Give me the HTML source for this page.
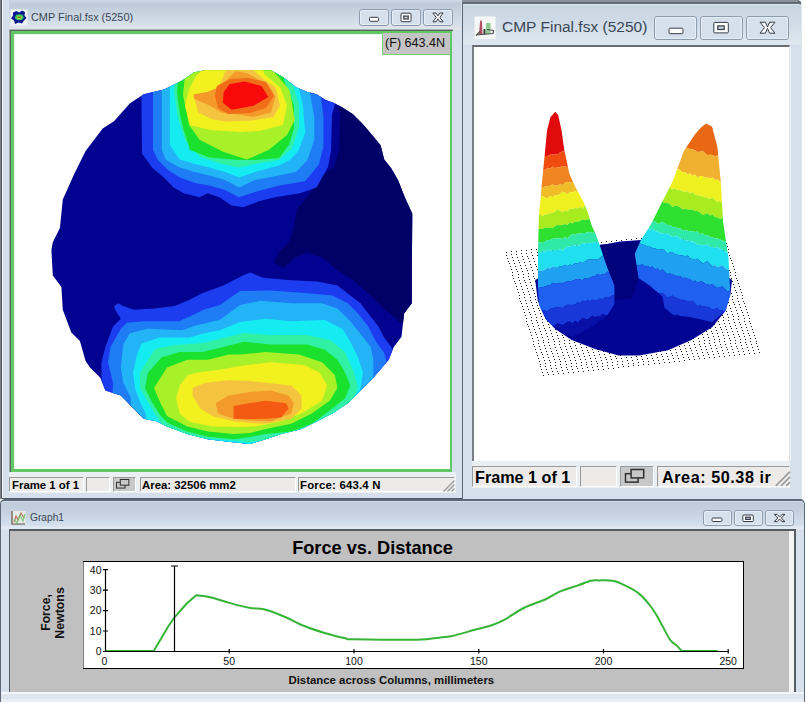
<!DOCTYPE html>
<html><head><meta charset="utf-8">
<style>
*{margin:0;padding:0;box-sizing:border-box}
html,body{width:806px;height:702px;overflow:hidden;background:#fdfefe;font-family:"Liberation Sans",sans-serif}
.abs{position:absolute}
.win{position:absolute;background:#d5e0ec;border:1px solid #4f5860;border-radius:5px}
.ttl{position:absolute;color:#3b4756;white-space:nowrap}
.btn{position:absolute;border:1px solid #8c9aab;border-radius:3px;background:linear-gradient(#e6edf5,#d3deea)}
.stp{position:absolute;background:#ecebea;border-top:1px solid #9a9a9a;border-left:1px solid #9a9a9a;border-right:1px solid #fff;border-bottom:1px solid #fff}
.stt{position:absolute;font-weight:bold;color:#000;white-space:nowrap}
</style></head><body>

<!-- ============ WINDOW 1 ============ -->
<div class="abs" style="left:0;top:0;width:1px;height:499px;background:#7a8288"></div>
<div class="win" style="left:1px;top:-12px;width:462px;height:511px;border-radius:5px 5px 0 0"></div>
<div class="abs" style="left:9px;top:0;width:452px;height:30px;background:linear-gradient(#ccd8e4 0px,#bfcbd8 4px,#c6d2de 12px,#d2dee9 22px,#dde2ea 27px,#e4e6ea 30px)"></div>
<div class="abs" style="left:2px;top:0;width:1px;height:498px;background:#eef4f6"></div>
<!-- icon -->
<div class="ttl" style="left:31px;top:10px;font-size:10.9px;line-height:14px">CMP Final.fsx (5250)</div>
<!-- client -->
<div class="abs" style="left:9px;top:29px;width:444px;height:1px;background:#a8b0b0"></div><div class="abs" style="left:9px;top:29px;width:1px;height:444px;background:#a0a8a8"></div>
<div class="abs" style="left:10px;top:30px;width:443px;height:443px;border-left:1px solid #56685e;border-top:1px solid #56685e"></div>
<div class="abs" style="left:11px;top:31px;width:441px;height:441px;border:3px solid #62c866;border-right-width:2px;background:#fff;box-shadow:inset 1px 1px 0 #e8f8ea"></div>
<!--HEAT--><svg class="abs" style="left:0;top:0" width="806" height="702">
<defs><clipPath id="bc"><polygon points="52.8,242.3 59.9,228.0 62.8,199.6 74.2,174.0 85.6,151.0 102.7,128.4 114.0,121.3 130.0,103.3 143.7,94.2 164.2,89.6 182.4,80.5 193.8,72.5 205.0,70.3 240.0,70.3 271.0,70.3 284.7,78.2 296.0,87.3 307.4,91.9 316.6,94.2 325.7,99.9 334.8,103.3 342.5,107.4 353.0,114.3 363.4,124.7 373.8,136.9 380.7,145.6 384.2,159.5 391.2,168.2 398.1,180.3 405.0,197.7 412.3,213.8 412.0,250.0 411.8,270.0 411.8,303.3 404.1,313.6 401.5,336.7 393.8,346.9 388.7,359.7 373.3,377.7 360.5,390.5 347.7,403.3 332.3,413.6 317.0,421.3 301.5,429.0 281.0,434.0 265.6,439.2 250.0,444.0 228.5,441.8 208.0,439.2 187.4,434.0 167.0,426.4 156.7,421.3 143.8,418.7 133.6,408.5 120.8,395.6 105.4,390.5 100.3,377.7 90.0,367.4 85.6,361.0 79.9,341.0 71.3,332.6 62.8,309.8 61.4,287.0 52.8,275.6 51.4,250.0"/></clipPath></defs>
<polygon points="52.8,242.3 59.9,228.0 62.8,199.6 74.2,174.0 85.6,151.0 102.7,128.4 114.0,121.3 130.0,103.3 143.7,94.2 164.2,89.6 182.4,80.5 193.8,72.5 205.0,70.3 240.0,70.3 271.0,70.3 284.7,78.2 296.0,87.3 307.4,91.9 316.6,94.2 325.7,99.9 334.8,103.3 342.5,107.4 353.0,114.3 363.4,124.7 373.8,136.9 380.7,145.6 384.2,159.5 391.2,168.2 398.1,180.3 405.0,197.7 412.3,213.8 412.0,250.0 411.8,270.0 411.8,303.3 404.1,313.6 401.5,336.7 393.8,346.9 388.7,359.7 373.3,377.7 360.5,390.5 347.7,403.3 332.3,413.6 317.0,421.3 301.5,429.0 281.0,434.0 265.6,439.2 250.0,444.0 228.5,441.8 208.0,439.2 187.4,434.0 167.0,426.4 156.7,421.3 143.8,418.7 133.6,408.5 120.8,395.6 105.4,390.5 100.3,377.7 90.0,367.4 85.6,361.0 79.9,341.0 71.3,332.6 62.8,309.8 61.4,287.0 52.8,275.6 51.4,250.0" fill="#020290"/>
<g clip-path="url(#bc)">
<polygon points="336.0,95.0 340.0,115.0 339.0,150.0 334.0,167.0 322.6,175.6 309.7,193.6 297.0,209.0 294.0,227.0 289.0,242.0 279.0,252.6 273.8,262.8 284.0,268.0 294.4,257.7 307.0,252.6 322.6,257.7 337.4,270.0 352.8,280.3 368.2,293.0 383.6,308.5 399.0,321.3 412.0,330.0 430.0,330.0 430.0,90.0" fill="#000066"/>
<polygon points="114.4,305.9 118.2,303.3 123.3,305.9 133.6,309.7 154.0,308.5 174.6,305.9 187.4,300.8 202.8,293.0 223.3,285.4 243.8,275.1 250.3,272.6 263.0,277.7 291.3,280.3 317.0,281.5 337.4,285.4 350.3,295.6 360.5,303.3 368.2,313.6 378.5,326.4 383.6,336.7 391.3,347.0 393.8,354.6 400.0,370.0 400.0,460.0 95.0,460.0 101.5,377.7 101.5,362.3 105.4,347.0 113.0,326.4 120.8,318.7 114.4,308.5" fill="#1c3cf0"/>
<polygon points="120.8,328.7 126.8,322.8 144.7,321.3 178.9,321.3 192.3,315.3 204.2,309.4 220.0,305.0 240.0,291.0 270.8,290.5 304.0,293.0 332.3,295.6 347.7,303.3 358.0,313.6 368.2,326.4 376.0,341.8 383.6,352.0 386.2,359.7 390.0,460.0 110.0,460.0 113.0,382.8 108.0,362.3 110.5,347.0" fill="#1e7cf4"/>
<polygon points="123.8,343.6 129.8,333.2 147.6,328.7 181.9,330.2 195.3,325.7 220.0,319.8 240.0,305.0 260.5,300.8 291.3,303.3 322.0,303.3 337.4,308.5 350.3,321.3 360.5,334.0 370.8,347.0 373.3,359.7 373.3,372.6 375.0,460.0 130.0,460.0 131.0,398.2 123.3,382.8 120.8,367.4 123.3,344.4" fill="#22b4f6"/>
<polygon points="141.7,343.6 159.6,337.6 189.3,337.6 204.2,333.2 220.0,330.2 240.0,322.0 265.6,318.7 291.3,321.3 324.6,320.0 342.6,329.0 350.3,341.8 358.0,357.2 363.0,372.6 360.5,388.0 355.0,460.0 150.0,460.0 146.0,414.0 140.0,402.0 135.0,388.0 133.0,372.6 137.0,354.6" fill="#14ecf2"/>
<polygon points="155.0,349.0 175.0,345.0 202.8,343.0 223.3,338.0 243.8,333.0 270.8,335.0 306.7,335.0 330.0,340.0 345.0,352.0 354.0,372.6 358.0,388.0 352.0,402.0 340.0,413.0 318.0,428.0 291.3,437.0 250.0,442.0 187.4,437.0 162.0,424.0 155.0,414.0 148.0,402.0 140.0,388.0 140.0,372.6" fill="#30f0a4"/>
<polygon points="161.8,357.2 179.7,352.0 202.8,352.0 223.3,347.0 243.8,341.8 270.8,344.4 306.7,344.4 324.6,349.5 337.4,359.7 345.1,372.6 350.3,385.4 345.1,398.2 332.3,408.5 311.8,423.8 291.3,431.5 265.6,434.0 250.0,437.0 233.6,439.2 208.0,436.7 187.4,431.5 168.0,423.0 160.0,415.0 152.0,402.0 145.0,388.0 148.0,372.6" fill="#1ae02e"/>
<polygon points="167.0,367.4 187.4,359.7 208.0,359.7 228.5,354.6 240.0,354.6 265.6,352.0 299.0,354.6 322.0,362.3 334.9,375.0 337.4,388.0 329.7,400.8 311.8,413.6 291.3,423.8 265.6,429.0 250.0,433.0 233.6,434.0 208.0,431.5 187.4,426.4 167.0,416.0 160.0,402.0 154.0,388.0" fill="#a8f028"/>
<polygon points="188.0,375.0 197.7,372.6 218.2,370.0 240.0,366.0 270.8,362.3 304.0,364.9 319.5,372.6 327.2,385.4 322.0,400.8 301.5,413.6 281.0,421.3 255.4,426.4 240.0,427.0 213.0,426.4 190.0,422.0 180.0,414.0 176.0,398.0 180.0,385.0" fill="#f2f01e"/>
<polygon points="192.6,388.0 205.4,382.8 228.5,380.3 250.0,381.0 265.6,382.8 291.3,385.4 301.5,395.6 301.5,408.5 291.3,418.7 265.6,423.8 250.0,423.0 233.6,421.3 213.0,416.2 200.3,408.5 192.6,395.6" fill="#f4c440"/>
<polygon points="215.6,403.3 228.5,395.6 250.0,392.0 270.8,390.5 288.7,395.6 293.8,403.3 291.3,413.6 270.8,421.3 250.0,420.5 233.6,418.7 218.2,413.6" fill="#f49a2a"/>
<polygon points="233.6,405.9 250.0,403.0 265.6,400.8 286.2,403.3 288.7,408.5 281.0,417.4 265.6,418.7 250.0,419.0 233.6,418.7" fill="#f45a12"/>
<polygon points="141.4,60.0 141.4,98.7 142.0,153.6 152.0,167.5 163.8,177.5 173.7,187.4 183.7,193.3 199.5,197.3 207.5,193.3 219.4,197.3 231.3,205.2 243.0,207.2 259.0,201.3 275.0,197.3 300.0,193.3 316.6,187.6 328.0,167.0 331.0,151.0 332.0,114.7 336.0,100.0 336.0,60.0" fill="#1c3cf0"/>
<polygon points="153.0,60.0 153.0,150.0 158.0,160.0 168.0,170.0 180.0,177.5 195.0,183.0 209.4,185.4 225.0,190.0 239.0,197.3 255.0,192.0 278.9,185.4 295.0,183.0 305.2,181.0 318.8,164.8 323.4,146.6 323.4,117.0 321.0,96.4 321.0,60.0" fill="#1e7cf4"/>
<polygon points="161.8,60.0 161.8,150.0 166.0,160.0 179.7,167.5 195.0,172.0 209.4,175.5 225.0,180.0 239.0,187.4 255.0,180.0 278.9,175.5 296.0,172.0 307.4,160.2 314.3,139.7 314.3,117.0 309.7,91.9 309.7,60.0" fill="#22b4f6"/>
<polygon points="169.8,60.0 169.8,145.0 179.7,159.6 195.0,164.0 209.4,167.5 225.0,172.0 239.0,177.5 255.0,172.0 278.9,165.6 290.0,160.0 298.3,151.0 305.2,133.0 303.0,105.6 298.3,85.0 298.0,60.0" fill="#14ecf2"/>
<polygon points="176.0,60.0 174.0,92.0 178.0,118.0 185.0,140.0 200.0,157.0 222.0,164.0 239.0,167.5 255.0,164.0 279.0,160.0 292.0,148.0 299.0,128.0 299.0,105.0 292.0,82.0 292.0,60.0" fill="#30f0a4"/>
<polygon points="180.0,60.0 178.0,78.0 177.0,92.0 180.0,114.7 183.7,130.0 190.0,150.0 209.4,157.6 239.0,160.0 255.0,160.0 278.9,158.0 289.2,144.3 294.0,128.3 294.0,105.6 284.0,80.5 284.0,60.0" fill="#1ae02e"/>
<polygon points="195.0,60.0 184.7,78.2 183.0,95.0 189.0,125.0 199.5,139.8 223.0,151.7 247.0,159.6 269.0,149.7 287.0,135.0 294.8,120.0 291.5,100.0 289.2,89.6 275.6,73.7 270.0,60.0" fill="#a8f028"/>
<polygon points="213.0,60.0 196.0,76.0 189.0,89.6 185.0,105.6 190.0,125.0 210.0,130.0 240.0,132.0 260.0,131.0 283.0,125.0 287.0,105.6 280.0,87.3 264.0,73.7 262.0,60.0" fill="#f2f01e"/>
<polygon points="193.8,96.4 198.3,112.4 212.0,119.2 225.7,121.5 252.8,120.4 273.3,117.0 280.0,105.6 275.6,87.3 262.0,78.0 243.0,60.0 230.0,60.0 218.8,87.3 207.4,91.9" fill="#f4c440"/>
<polygon points="193.8,94.2 207.4,91.9 218.8,87.3 236.0,71.0 248.2,73.7 268.7,85.0 275.6,96.4 271.0,112.4 252.8,117.0 240.0,114.7 221.0,112.4 209.7,105.6 193.8,98.7" fill="#f49a2a"/>
<polygon points="216.8,86.0 230.0,79.0 248.0,78.0 266.0,82.0 274.0,96.0 266.0,108.0 250.0,113.0 228.0,114.0 218.0,108.0 215.0,96.0" fill="#f06e18"/>
<polygon points="223.7,91.9 229.7,84.0 244.6,81.5 261.5,86.0 268.4,96.9 253.5,105.8 231.7,109.8 222.8,102.8" fill="#f80a0a"/>
</g>
</svg><!--/HEAT-->
<!-- label -->
<div class="abs" style="left:382px;top:33px;width:68px;height:22px;background:#c4c4c4;border:1px solid #7cd07c;border-right:none;border-top:none"></div>
<div class="abs" style="left:385px;top:35px;font-size:12.6px;line-height:16px;color:#111;white-space:nowrap">(F) 643.4N</div>
<!-- status bar -->
<div class="abs" style="left:9px;top:472px;width:447px;height:21px;background:#eceff1"></div>
<div class="stp" style="left:9px;top:477px;width:75px;height:15px"></div>
<div class="stp" style="left:86px;top:477px;width:24px;height:15px"></div>
<div class="stp" style="left:113px;top:477px;width:23px;height:15px;background:#c8c8c8"></div>
<div class="stp" style="left:140px;top:477px;width:156px;height:15px"></div>
<div class="stp" style="left:298px;top:477px;width:157px;height:15px"></div>
<div class="stt" style="left:12px;top:479px;font-size:11.4px;line-height:13px">Frame 1 of 1</div>
<div class="stt" style="left:142px;top:479px;font-size:11.4px;line-height:13px">Area: 32506 mm2</div>
<div class="stt" style="left:300px;top:479px;font-size:11.4px;line-height:13px;letter-spacing:0.2px">Force: 643.4 N</div>

<!-- ============ WINDOW 2 ============ -->
<div class="win" style="left:462px;top:0px;width:340px;height:500px;border-color:#5a6470;border-right-color:#dde8ea;border-top:4px solid #626c78;border-radius:0 5px 0 0"></div><div class="abs" style="left:462px;top:0;width:336px;height:2px;background:#8a929c"></div>
<div class="abs" style="left:463px;top:4px;width:338px;height:41px;border-radius:4px 4px 0 0;background:linear-gradient(#e8eef4 0px,#c8d4e0 1.5px,#d0dce8 20px,#dce6ee 36px,#dfe8f0 41px)"></div>
<div class="ttl" style="left:502px;top:17px;font-size:15.5px;line-height:20px">CMP Final.fsx (5250)</div>
<div class="abs" style="left:472px;top:45px;width:318px;height:416px;border-left:2px solid #7a7e84;border-top:2px solid #6a6e74;border-right:1px solid #dfe3e7;background:#fff"></div><div class="abs" style="left:790px;top:47px;width:1px;height:414px;background:#eef6fc"></div>
<!--P3D--><svg class="abs" style="left:0;top:0" width="806" height="702">
<defs><linearGradient id="lg" gradientUnits="userSpaceOnUse" x1="560" y1="112" x2="603.85" y2="331.23"><stop offset="0.0000" stop-color="#e00c0c"/><stop offset="0.1763" stop-color="#e00c0c"/><stop offset="0.1833" stop-color="#f04c10"/><stop offset="0.2377" stop-color="#f04c10"/><stop offset="0.2447" stop-color="#f08420"/><stop offset="0.3123" stop-color="#f08420"/><stop offset="0.3193" stop-color="#f0bc28"/><stop offset="0.3561" stop-color="#f0bc28"/><stop offset="0.3632" stop-color="#eef020"/><stop offset="0.4307" stop-color="#eef020"/><stop offset="0.4377" stop-color="#a8ec20"/><stop offset="0.4921" stop-color="#a8ec20"/><stop offset="0.4991" stop-color="#30e030"/><stop offset="0.5491" stop-color="#30e030"/><stop offset="0.5561" stop-color="#30e8a8"/><stop offset="0.5974" stop-color="#30e8a8"/><stop offset="0.6044" stop-color="#20e0f0"/><stop offset="0.6719" stop-color="#20e0f0"/><stop offset="0.6789" stop-color="#20a0f0"/><stop offset="0.7465" stop-color="#20a0f0"/><stop offset="0.7535" stop-color="#2060f0"/><stop offset="0.8518" stop-color="#2060f0"/><stop offset="0.8588" stop-color="#1838d8"/><stop offset="0.9263" stop-color="#1838d8"/><stop offset="0.9333" stop-color="#0810a8"/><stop offset="1.0000" stop-color="#0810a8"/></linearGradient><linearGradient id="rg" gradientUnits="userSpaceOnUse" x1="704" y1="125" x2="623.54" y2="303.79"><stop offset="0.0000" stop-color="#e86814"/><stop offset="0.1265" stop-color="#e86814"/><stop offset="0.1340" stop-color="#f0b030"/><stop offset="0.2381" stop-color="#f0b030"/><stop offset="0.2456" stop-color="#eef020"/><stop offset="0.3312" stop-color="#eef020"/><stop offset="0.3386" stop-color="#a8ec20"/><stop offset="0.4102" stop-color="#a8ec20"/><stop offset="0.4177" stop-color="#30e030"/><stop offset="0.5079" stop-color="#30e030"/><stop offset="0.5153" stop-color="#30e8a8"/><stop offset="0.5544" stop-color="#30e8a8"/><stop offset="0.5619" stop-color="#20e0f0"/><stop offset="0.6335" stop-color="#20e0f0"/><stop offset="0.6409" stop-color="#20a0f0"/><stop offset="0.7312" stop-color="#20a0f0"/><stop offset="0.7386" stop-color="#2060f0"/><stop offset="0.8381" stop-color="#2060f0"/><stop offset="0.8456" stop-color="#1838d8"/><stop offset="0.9195" stop-color="#1838d8"/><stop offset="0.9270" stop-color="#0810a8"/><stop offset="1.0000" stop-color="#0810a8"/></linearGradient><linearGradient id="sh" x1="0" y1="0" x2="1" y2="0"><stop offset="0" stop-color="#000" stop-opacity="0"/><stop offset="0.55" stop-color="#000" stop-opacity="0"/><stop offset="1" stop-color="#000" stop-opacity="0.18"/></linearGradient></defs>
<path d="M543 375h1v1h-1zM542 372h1v1h-1zM541 369h1v1h-1zM540 366h1v1h-1zM540 364h1v1h-1zM539 361h1v1h-1zM538 358h1v1h-1zM537 355h1v1h-1zM536 352h1v1h-1zM535 349h1v1h-1zM534 346h1v1h-1zM533 344h1v1h-1zM533 341h1v1h-1zM532 338h1v1h-1zM531 335h1v1h-1zM530 332h1v1h-1zM529 329h1v1h-1zM528 326h1v1h-1zM527 324h1v1h-1zM526 321h1v1h-1zM526 318h1v1h-1zM525 315h1v1h-1zM524 312h1v1h-1zM523 309h1v1h-1zM522 306h1v1h-1zM521 303h1v1h-1zM520 301h1v1h-1zM519 298h1v1h-1zM519 295h1v1h-1zM518 292h1v1h-1zM517 289h1v1h-1zM516 286h1v1h-1zM515 283h1v1h-1zM514 281h1v1h-1zM513 278h1v1h-1zM512 275h1v1h-1zM512 272h1v1h-1zM511 269h1v1h-1zM510 266h1v1h-1zM509 263h1v1h-1zM508 261h1v1h-1zM507 258h1v1h-1zM506 255h1v1h-1zM506 252h1v1h-1zM548 374h1v1h-1zM547 372h1v1h-1zM546 369h1v1h-1zM545 366h1v1h-1zM545 363h1v1h-1zM544 360h1v1h-1zM543 357h1v1h-1zM542 354h1v1h-1zM541 352h1v1h-1zM540 349h1v1h-1zM539 346h1v1h-1zM538 343h1v1h-1zM538 340h1v1h-1zM537 337h1v1h-1zM536 334h1v1h-1zM535 332h1v1h-1zM534 329h1v1h-1zM533 326h1v1h-1zM532 323h1v1h-1zM531 320h1v1h-1zM531 317h1v1h-1zM530 314h1v1h-1zM529 312h1v1h-1zM528 309h1v1h-1zM527 306h1v1h-1zM526 303h1v1h-1zM525 300h1v1h-1zM524 297h1v1h-1zM524 294h1v1h-1zM523 292h1v1h-1zM522 289h1v1h-1zM521 286h1v1h-1zM520 283h1v1h-1zM519 280h1v1h-1zM518 277h1v1h-1zM518 274h1v1h-1zM517 271h1v1h-1zM516 269h1v1h-1zM515 266h1v1h-1zM514 263h1v1h-1zM513 260h1v1h-1zM512 257h1v1h-1zM511 254h1v1h-1zM511 251h1v1h-1zM553 374h1v1h-1zM552 371h1v1h-1zM551 368h1v1h-1zM550 365h1v1h-1zM550 362h1v1h-1zM549 360h1v1h-1zM548 357h1v1h-1zM547 354h1v1h-1zM546 351h1v1h-1zM545 348h1v1h-1zM544 345h1v1h-1zM543 342h1v1h-1zM543 340h1v1h-1zM542 337h1v1h-1zM541 334h1v1h-1zM540 331h1v1h-1zM539 328h1v1h-1zM538 325h1v1h-1zM537 322h1v1h-1zM536 320h1v1h-1zM536 317h1v1h-1zM535 314h1v1h-1zM534 311h1v1h-1zM533 308h1v1h-1zM532 305h1v1h-1zM531 302h1v1h-1zM530 300h1v1h-1zM530 297h1v1h-1zM529 294h1v1h-1zM528 291h1v1h-1zM527 288h1v1h-1zM526 285h1v1h-1zM525 282h1v1h-1zM524 280h1v1h-1zM523 277h1v1h-1zM523 274h1v1h-1zM522 271h1v1h-1zM521 268h1v1h-1zM520 265h1v1h-1zM519 262h1v1h-1zM518 260h1v1h-1zM517 257h1v1h-1zM516 254h1v1h-1zM516 251h1v1h-1zM558 373h1v1h-1zM557 371h1v1h-1zM556 368h1v1h-1zM555 365h1v1h-1zM555 362h1v1h-1zM554 359h1v1h-1zM553 356h1v1h-1zM552 353h1v1h-1zM551 351h1v1h-1zM550 348h1v1h-1zM549 345h1v1h-1zM548 342h1v1h-1zM548 339h1v1h-1zM547 336h1v1h-1zM546 333h1v1h-1zM545 330h1v1h-1zM544 328h1v1h-1zM543 325h1v1h-1zM542 322h1v1h-1zM542 319h1v1h-1zM541 316h1v1h-1zM540 313h1v1h-1zM539 310h1v1h-1zM538 308h1v1h-1zM537 305h1v1h-1zM536 302h1v1h-1zM535 299h1v1h-1zM535 296h1v1h-1zM534 293h1v1h-1zM533 290h1v1h-1zM532 288h1v1h-1zM531 285h1v1h-1zM530 282h1v1h-1zM529 279h1v1h-1zM528 276h1v1h-1zM528 273h1v1h-1zM527 270h1v1h-1zM526 268h1v1h-1zM525 265h1v1h-1zM524 262h1v1h-1zM523 259h1v1h-1zM522 256h1v1h-1zM521 253h1v1h-1zM521 250h1v1h-1zM563 373h1v1h-1zM562 370h1v1h-1zM561 367h1v1h-1zM560 364h1v1h-1zM560 361h1v1h-1zM559 359h1v1h-1zM558 356h1v1h-1zM557 353h1v1h-1zM556 350h1v1h-1zM555 347h1v1h-1zM554 344h1v1h-1zM554 341h1v1h-1zM553 339h1v1h-1zM552 336h1v1h-1zM551 333h1v1h-1zM550 330h1v1h-1zM549 327h1v1h-1zM548 324h1v1h-1zM547 321h1v1h-1zM547 319h1v1h-1zM546 316h1v1h-1zM545 313h1v1h-1zM544 310h1v1h-1zM543 307h1v1h-1zM542 304h1v1h-1zM541 301h1v1h-1zM540 298h1v1h-1zM540 296h1v1h-1zM539 293h1v1h-1zM538 290h1v1h-1zM537 287h1v1h-1zM536 284h1v1h-1zM535 281h1v1h-1zM534 278h1v1h-1zM533 276h1v1h-1zM533 273h1v1h-1zM532 270h1v1h-1zM531 267h1v1h-1zM530 264h1v1h-1zM529 261h1v1h-1zM528 258h1v1h-1zM527 256h1v1h-1zM526 253h1v1h-1zM526 250h1v1h-1zM568 372h1v1h-1zM567 369h1v1h-1zM566 367h1v1h-1zM566 364h1v1h-1zM565 361h1v1h-1zM564 358h1v1h-1zM563 355h1v1h-1zM562 352h1v1h-1zM561 349h1v1h-1zM560 347h1v1h-1zM559 344h1v1h-1zM559 341h1v1h-1zM558 338h1v1h-1zM557 335h1v1h-1zM556 332h1v1h-1zM555 329h1v1h-1zM554 327h1v1h-1zM553 324h1v1h-1zM552 321h1v1h-1zM552 318h1v1h-1zM551 315h1v1h-1zM550 312h1v1h-1zM549 309h1v1h-1zM548 307h1v1h-1zM547 304h1v1h-1zM546 301h1v1h-1zM545 298h1v1h-1zM545 295h1v1h-1zM544 292h1v1h-1zM543 289h1v1h-1zM542 287h1v1h-1zM541 284h1v1h-1zM540 281h1v1h-1zM539 278h1v1h-1zM538 275h1v1h-1zM538 272h1v1h-1zM537 269h1v1h-1zM536 266h1v1h-1zM535 264h1v1h-1zM534 261h1v1h-1zM533 258h1v1h-1zM532 255h1v1h-1zM531 252h1v1h-1zM531 249h1v1h-1zM573 372h1v1h-1zM572 369h1v1h-1zM571 366h1v1h-1zM571 363h1v1h-1zM570 360h1v1h-1zM569 357h1v1h-1zM568 355h1v1h-1zM567 352h1v1h-1zM566 349h1v1h-1zM565 346h1v1h-1zM564 343h1v1h-1zM564 340h1v1h-1zM563 337h1v1h-1zM562 335h1v1h-1zM561 332h1v1h-1zM560 329h1v1h-1zM559 326h1v1h-1zM558 323h1v1h-1zM557 320h1v1h-1zM557 317h1v1h-1zM556 315h1v1h-1zM555 312h1v1h-1zM554 309h1v1h-1zM553 306h1v1h-1zM552 303h1v1h-1zM551 300h1v1h-1zM550 297h1v1h-1zM550 295h1v1h-1zM549 292h1v1h-1zM548 289h1v1h-1zM547 286h1v1h-1zM546 283h1v1h-1zM545 280h1v1h-1zM544 277h1v1h-1zM543 275h1v1h-1zM543 272h1v1h-1zM542 269h1v1h-1zM541 266h1v1h-1zM540 263h1v1h-1zM539 260h1v1h-1zM538 257h1v1h-1zM537 255h1v1h-1zM537 252h1v1h-1zM536 249h1v1h-1zM578 371h1v1h-1zM577 368h1v1h-1zM576 366h1v1h-1zM576 363h1v1h-1zM575 360h1v1h-1zM574 357h1v1h-1zM573 354h1v1h-1zM572 351h1v1h-1zM571 348h1v1h-1zM570 346h1v1h-1zM569 343h1v1h-1zM569 340h1v1h-1zM568 337h1v1h-1zM567 334h1v1h-1zM566 331h1v1h-1zM565 328h1v1h-1zM564 325h1v1h-1zM563 323h1v1h-1zM562 320h1v1h-1zM562 317h1v1h-1zM561 314h1v1h-1zM560 311h1v1h-1zM559 308h1v1h-1zM558 305h1v1h-1zM557 303h1v1h-1zM556 300h1v1h-1zM555 297h1v1h-1zM555 294h1v1h-1zM554 291h1v1h-1zM553 288h1v1h-1zM552 285h1v1h-1zM551 283h1v1h-1zM550 280h1v1h-1zM549 277h1v1h-1zM549 274h1v1h-1zM548 271h1v1h-1zM547 268h1v1h-1zM546 265h1v1h-1zM545 263h1v1h-1zM544 260h1v1h-1zM543 257h1v1h-1zM542 254h1v1h-1zM542 251h1v1h-1zM541 248h1v1h-1zM583 371h1v1h-1zM582 368h1v1h-1zM581 365h1v1h-1zM581 362h1v1h-1zM580 359h1v1h-1zM579 356h1v1h-1zM578 354h1v1h-1zM577 351h1v1h-1zM576 348h1v1h-1zM575 345h1v1h-1zM574 342h1v1h-1zM574 339h1v1h-1zM573 336h1v1h-1zM572 334h1v1h-1zM571 331h1v1h-1zM570 328h1v1h-1zM569 325h1v1h-1zM568 322h1v1h-1zM567 319h1v1h-1zM567 316h1v1h-1zM566 314h1v1h-1zM565 311h1v1h-1zM564 308h1v1h-1zM563 305h1v1h-1zM562 302h1v1h-1zM561 299h1v1h-1zM561 296h1v1h-1zM560 293h1v1h-1zM559 291h1v1h-1zM558 288h1v1h-1zM557 285h1v1h-1zM556 282h1v1h-1zM555 279h1v1h-1zM554 276h1v1h-1zM554 273h1v1h-1zM553 271h1v1h-1zM552 268h1v1h-1zM551 265h1v1h-1zM550 262h1v1h-1zM549 259h1v1h-1zM548 256h1v1h-1zM547 253h1v1h-1zM547 251h1v1h-1zM546 248h1v1h-1zM588 370h1v1h-1zM587 367h1v1h-1zM586 364h1v1h-1zM586 362h1v1h-1zM585 359h1v1h-1zM584 356h1v1h-1zM583 353h1v1h-1zM582 350h1v1h-1zM581 347h1v1h-1zM580 344h1v1h-1zM579 342h1v1h-1zM579 339h1v1h-1zM578 336h1v1h-1zM577 333h1v1h-1zM576 330h1v1h-1zM575 327h1v1h-1zM574 324h1v1h-1zM573 322h1v1h-1zM573 319h1v1h-1zM572 316h1v1h-1zM571 313h1v1h-1zM570 310h1v1h-1zM569 307h1v1h-1zM568 304h1v1h-1zM567 302h1v1h-1zM566 299h1v1h-1zM566 296h1v1h-1zM565 293h1v1h-1zM564 290h1v1h-1zM563 287h1v1h-1zM562 284h1v1h-1zM561 282h1v1h-1zM560 279h1v1h-1zM559 276h1v1h-1zM559 273h1v1h-1zM558 270h1v1h-1zM557 267h1v1h-1zM556 264h1v1h-1zM555 261h1v1h-1zM554 259h1v1h-1zM553 256h1v1h-1zM552 253h1v1h-1zM552 250h1v1h-1zM551 247h1v1h-1zM593 370h1v1h-1zM592 367h1v1h-1zM591 364h1v1h-1zM591 361h1v1h-1zM590 358h1v1h-1zM589 355h1v1h-1zM588 352h1v1h-1zM587 350h1v1h-1zM586 347h1v1h-1zM585 344h1v1h-1zM585 341h1v1h-1zM584 338h1v1h-1zM583 335h1v1h-1zM582 332h1v1h-1zM581 330h1v1h-1zM580 327h1v1h-1zM579 324h1v1h-1zM578 321h1v1h-1zM578 318h1v1h-1zM577 315h1v1h-1zM576 312h1v1h-1zM575 310h1v1h-1zM574 307h1v1h-1zM573 304h1v1h-1zM572 301h1v1h-1zM571 298h1v1h-1zM571 295h1v1h-1zM570 292h1v1h-1zM569 290h1v1h-1zM568 287h1v1h-1zM567 284h1v1h-1zM566 281h1v1h-1zM565 278h1v1h-1zM564 275h1v1h-1zM564 272h1v1h-1zM563 270h1v1h-1zM562 267h1v1h-1zM561 264h1v1h-1zM560 261h1v1h-1zM559 258h1v1h-1zM558 255h1v1h-1zM557 252h1v1h-1zM557 250h1v1h-1zM556 247h1v1h-1zM598 369h1v1h-1zM597 366h1v1h-1zM597 363h1v1h-1zM596 361h1v1h-1zM595 358h1v1h-1zM594 355h1v1h-1zM593 352h1v1h-1zM592 349h1v1h-1zM591 346h1v1h-1zM590 343h1v1h-1zM590 341h1v1h-1zM589 338h1v1h-1zM588 335h1v1h-1zM587 332h1v1h-1zM586 329h1v1h-1zM585 326h1v1h-1zM584 323h1v1h-1zM583 320h1v1h-1zM583 318h1v1h-1zM582 315h1v1h-1zM581 312h1v1h-1zM580 309h1v1h-1zM579 306h1v1h-1zM578 303h1v1h-1zM577 300h1v1h-1zM576 298h1v1h-1zM576 295h1v1h-1zM575 292h1v1h-1zM574 289h1v1h-1zM573 286h1v1h-1zM572 283h1v1h-1zM571 280h1v1h-1zM570 278h1v1h-1zM569 275h1v1h-1zM569 272h1v1h-1zM568 269h1v1h-1zM567 266h1v1h-1zM566 263h1v1h-1zM565 260h1v1h-1zM564 258h1v1h-1zM563 255h1v1h-1zM562 252h1v1h-1zM562 249h1v1h-1zM561 246h1v1h-1zM603 369h1v1h-1zM602 366h1v1h-1zM602 363h1v1h-1zM601 360h1v1h-1zM600 357h1v1h-1zM599 354h1v1h-1zM598 351h1v1h-1zM597 349h1v1h-1zM596 346h1v1h-1zM595 343h1v1h-1zM595 340h1v1h-1zM594 337h1v1h-1zM593 334h1v1h-1zM592 331h1v1h-1zM591 329h1v1h-1zM590 326h1v1h-1zM589 323h1v1h-1zM588 320h1v1h-1zM588 317h1v1h-1zM587 314h1v1h-1zM586 311h1v1h-1zM585 309h1v1h-1zM584 306h1v1h-1zM583 303h1v1h-1zM582 300h1v1h-1zM581 297h1v1h-1zM581 294h1v1h-1zM580 291h1v1h-1zM579 288h1v1h-1zM578 286h1v1h-1zM577 283h1v1h-1zM576 280h1v1h-1zM575 277h1v1h-1zM574 274h1v1h-1zM574 271h1v1h-1zM573 268h1v1h-1zM572 266h1v1h-1zM571 263h1v1h-1zM570 260h1v1h-1zM569 257h1v1h-1zM568 254h1v1h-1zM568 251h1v1h-1zM567 248h1v1h-1zM566 246h1v1h-1zM608 368h1v1h-1zM607 365h1v1h-1zM607 362h1v1h-1zM606 359h1v1h-1zM605 357h1v1h-1zM604 354h1v1h-1zM603 351h1v1h-1zM602 348h1v1h-1zM601 345h1v1h-1zM600 342h1v1h-1zM600 339h1v1h-1zM599 337h1v1h-1zM598 334h1v1h-1zM597 331h1v1h-1zM596 328h1v1h-1zM595 325h1v1h-1zM594 322h1v1h-1zM593 319h1v1h-1zM593 317h1v1h-1zM592 314h1v1h-1zM591 311h1v1h-1zM590 308h1v1h-1zM589 305h1v1h-1zM588 302h1v1h-1zM587 299h1v1h-1zM586 297h1v1h-1zM586 294h1v1h-1zM585 291h1v1h-1zM584 288h1v1h-1zM583 285h1v1h-1zM582 282h1v1h-1zM581 279h1v1h-1zM580 277h1v1h-1zM580 274h1v1h-1zM579 271h1v1h-1zM578 268h1v1h-1zM577 265h1v1h-1zM576 262h1v1h-1zM575 259h1v1h-1zM574 256h1v1h-1zM573 254h1v1h-1zM573 251h1v1h-1zM572 248h1v1h-1zM571 245h1v1h-1zM613 368h1v1h-1zM612 365h1v1h-1zM612 362h1v1h-1zM611 359h1v1h-1zM610 356h1v1h-1zM609 353h1v1h-1zM608 350h1v1h-1zM607 347h1v1h-1zM606 345h1v1h-1zM605 342h1v1h-1zM605 339h1v1h-1zM604 336h1v1h-1zM603 333h1v1h-1zM602 330h1v1h-1zM601 327h1v1h-1zM600 325h1v1h-1zM599 322h1v1h-1zM598 319h1v1h-1zM598 316h1v1h-1zM597 313h1v1h-1zM596 310h1v1h-1zM595 307h1v1h-1zM594 305h1v1h-1zM593 302h1v1h-1zM592 299h1v1h-1zM592 296h1v1h-1zM591 293h1v1h-1zM590 290h1v1h-1zM589 287h1v1h-1zM588 285h1v1h-1zM587 282h1v1h-1zM586 279h1v1h-1zM585 276h1v1h-1zM585 273h1v1h-1zM584 270h1v1h-1zM583 267h1v1h-1zM582 265h1v1h-1zM581 262h1v1h-1zM580 259h1v1h-1zM579 256h1v1h-1zM578 253h1v1h-1zM578 250h1v1h-1zM577 247h1v1h-1zM576 245h1v1h-1zM618 367h1v1h-1zM617 364h1v1h-1zM617 361h1v1h-1zM616 358h1v1h-1zM615 356h1v1h-1zM614 353h1v1h-1zM613 350h1v1h-1zM612 347h1v1h-1zM611 344h1v1h-1zM610 341h1v1h-1zM610 338h1v1h-1zM609 336h1v1h-1zM608 333h1v1h-1zM607 330h1v1h-1zM606 327h1v1h-1zM605 324h1v1h-1zM604 321h1v1h-1zM604 318h1v1h-1zM603 315h1v1h-1zM602 313h1v1h-1zM601 310h1v1h-1zM600 307h1v1h-1zM599 304h1v1h-1zM598 301h1v1h-1zM597 298h1v1h-1zM597 295h1v1h-1zM596 293h1v1h-1zM595 290h1v1h-1zM594 287h1v1h-1zM593 284h1v1h-1zM592 281h1v1h-1zM591 278h1v1h-1zM590 275h1v1h-1zM590 273h1v1h-1zM589 270h1v1h-1zM588 267h1v1h-1zM587 264h1v1h-1zM586 261h1v1h-1zM585 258h1v1h-1zM584 255h1v1h-1zM583 253h1v1h-1zM583 250h1v1h-1zM582 247h1v1h-1zM581 244h1v1h-1zM623 366h1v1h-1zM622 364h1v1h-1zM622 361h1v1h-1zM621 358h1v1h-1zM620 355h1v1h-1zM619 352h1v1h-1zM618 349h1v1h-1zM617 346h1v1h-1zM616 344h1v1h-1zM616 341h1v1h-1zM615 338h1v1h-1zM614 335h1v1h-1zM613 332h1v1h-1zM612 329h1v1h-1zM611 326h1v1h-1zM610 324h1v1h-1zM609 321h1v1h-1zM609 318h1v1h-1zM608 315h1v1h-1zM607 312h1v1h-1zM606 309h1v1h-1zM605 306h1v1h-1zM604 304h1v1h-1zM603 301h1v1h-1zM602 298h1v1h-1zM602 295h1v1h-1zM601 292h1v1h-1zM600 289h1v1h-1zM599 286h1v1h-1zM598 283h1v1h-1zM597 281h1v1h-1zM596 278h1v1h-1zM595 275h1v1h-1zM595 272h1v1h-1zM594 269h1v1h-1zM593 266h1v1h-1zM592 263h1v1h-1zM591 261h1v1h-1zM590 258h1v1h-1zM589 255h1v1h-1zM588 252h1v1h-1zM588 249h1v1h-1zM587 246h1v1h-1zM586 243h1v1h-1zM628 366h1v1h-1zM628 363h1v1h-1zM627 360h1v1h-1zM626 357h1v1h-1zM625 354h1v1h-1zM624 352h1v1h-1zM623 349h1v1h-1zM622 346h1v1h-1zM621 343h1v1h-1zM621 340h1v1h-1zM620 337h1v1h-1zM619 334h1v1h-1zM618 332h1v1h-1zM617 329h1v1h-1zM616 326h1v1h-1zM615 323h1v1h-1zM614 320h1v1h-1zM614 317h1v1h-1zM613 314h1v1h-1zM612 312h1v1h-1zM611 309h1v1h-1zM610 306h1v1h-1zM609 303h1v1h-1zM608 300h1v1h-1zM607 297h1v1h-1zM607 294h1v1h-1zM606 292h1v1h-1zM605 289h1v1h-1zM604 286h1v1h-1zM603 283h1v1h-1zM602 280h1v1h-1zM601 277h1v1h-1zM600 274h1v1h-1zM600 272h1v1h-1zM599 269h1v1h-1zM598 266h1v1h-1zM597 263h1v1h-1zM596 260h1v1h-1zM595 257h1v1h-1zM594 254h1v1h-1zM594 251h1v1h-1zM593 249h1v1h-1zM592 246h1v1h-1zM591 243h1v1h-1zM633 365h1v1h-1zM633 363h1v1h-1zM632 360h1v1h-1zM631 357h1v1h-1zM630 354h1v1h-1zM629 351h1v1h-1zM628 348h1v1h-1zM627 345h1v1h-1zM626 342h1v1h-1zM626 340h1v1h-1zM625 337h1v1h-1zM624 334h1v1h-1zM623 331h1v1h-1zM622 328h1v1h-1zM621 325h1v1h-1zM620 322h1v1h-1zM619 320h1v1h-1zM619 317h1v1h-1zM618 314h1v1h-1zM617 311h1v1h-1zM616 308h1v1h-1zM615 305h1v1h-1zM614 302h1v1h-1zM613 300h1v1h-1zM612 297h1v1h-1zM612 294h1v1h-1zM611 291h1v1h-1zM610 288h1v1h-1zM609 285h1v1h-1zM608 282h1v1h-1zM607 280h1v1h-1zM606 277h1v1h-1zM606 274h1v1h-1zM605 271h1v1h-1zM604 268h1v1h-1zM603 265h1v1h-1zM602 262h1v1h-1zM601 260h1v1h-1zM600 257h1v1h-1zM599 254h1v1h-1zM599 251h1v1h-1zM598 248h1v1h-1zM597 245h1v1h-1zM596 242h1v1h-1zM638 365h1v1h-1zM638 362h1v1h-1zM637 359h1v1h-1zM636 356h1v1h-1zM635 353h1v1h-1zM634 351h1v1h-1zM633 348h1v1h-1zM632 345h1v1h-1zM631 342h1v1h-1zM631 339h1v1h-1zM630 336h1v1h-1zM629 333h1v1h-1zM628 331h1v1h-1zM627 328h1v1h-1zM626 325h1v1h-1zM625 322h1v1h-1zM624 319h1v1h-1zM624 316h1v1h-1zM623 313h1v1h-1zM622 310h1v1h-1zM621 308h1v1h-1zM620 305h1v1h-1zM619 302h1v1h-1zM618 299h1v1h-1zM618 296h1v1h-1zM617 293h1v1h-1zM616 290h1v1h-1zM615 288h1v1h-1zM614 285h1v1h-1zM613 282h1v1h-1zM612 279h1v1h-1zM611 276h1v1h-1zM611 273h1v1h-1zM610 270h1v1h-1zM609 268h1v1h-1zM608 265h1v1h-1zM607 262h1v1h-1zM606 259h1v1h-1zM605 256h1v1h-1zM604 253h1v1h-1zM604 250h1v1h-1zM603 248h1v1h-1zM602 245h1v1h-1zM601 242h1v1h-1zM643 364h1v1h-1zM643 361h1v1h-1zM642 359h1v1h-1zM641 356h1v1h-1zM640 353h1v1h-1zM639 350h1v1h-1zM638 347h1v1h-1zM637 344h1v1h-1zM636 341h1v1h-1zM636 339h1v1h-1zM635 336h1v1h-1zM634 333h1v1h-1zM633 330h1v1h-1zM632 327h1v1h-1zM631 324h1v1h-1zM630 321h1v1h-1zM630 319h1v1h-1zM629 316h1v1h-1zM628 313h1v1h-1zM627 310h1v1h-1zM626 307h1v1h-1zM625 304h1v1h-1zM624 301h1v1h-1zM623 299h1v1h-1zM623 296h1v1h-1zM622 293h1v1h-1zM621 290h1v1h-1zM620 287h1v1h-1zM619 284h1v1h-1zM618 281h1v1h-1zM617 278h1v1h-1zM616 276h1v1h-1zM616 273h1v1h-1zM615 270h1v1h-1zM614 267h1v1h-1zM613 264h1v1h-1zM612 261h1v1h-1zM611 258h1v1h-1zM610 256h1v1h-1zM609 253h1v1h-1zM609 250h1v1h-1zM608 247h1v1h-1zM607 244h1v1h-1zM606 241h1v1h-1zM648 364h1v1h-1zM648 361h1v1h-1zM647 358h1v1h-1zM646 355h1v1h-1zM645 352h1v1h-1zM644 349h1v1h-1zM643 347h1v1h-1zM642 344h1v1h-1zM642 341h1v1h-1zM641 338h1v1h-1zM640 335h1v1h-1zM639 332h1v1h-1zM638 329h1v1h-1zM637 327h1v1h-1zM636 324h1v1h-1zM635 321h1v1h-1zM635 318h1v1h-1zM634 315h1v1h-1zM633 312h1v1h-1zM632 309h1v1h-1zM631 307h1v1h-1zM630 304h1v1h-1zM629 301h1v1h-1zM628 298h1v1h-1zM628 295h1v1h-1zM627 292h1v1h-1zM626 289h1v1h-1zM625 287h1v1h-1zM624 284h1v1h-1zM623 281h1v1h-1zM622 278h1v1h-1zM621 275h1v1h-1zM621 272h1v1h-1zM620 269h1v1h-1zM619 267h1v1h-1zM618 264h1v1h-1zM617 261h1v1h-1zM616 258h1v1h-1zM615 255h1v1h-1zM614 252h1v1h-1zM614 249h1v1h-1zM613 246h1v1h-1zM612 244h1v1h-1zM611 241h1v1h-1zM654 363h1v1h-1zM653 360h1v1h-1zM652 358h1v1h-1zM651 355h1v1h-1zM650 352h1v1h-1zM649 349h1v1h-1zM648 346h1v1h-1zM647 343h1v1h-1zM647 340h1v1h-1zM646 337h1v1h-1zM645 335h1v1h-1zM644 332h1v1h-1zM643 329h1v1h-1zM642 326h1v1h-1zM641 323h1v1h-1zM640 320h1v1h-1zM640 317h1v1h-1zM639 315h1v1h-1zM638 312h1v1h-1zM637 309h1v1h-1zM636 306h1v1h-1zM635 303h1v1h-1zM634 300h1v1h-1zM633 297h1v1h-1zM633 295h1v1h-1zM632 292h1v1h-1zM631 289h1v1h-1zM630 286h1v1h-1zM629 283h1v1h-1zM628 280h1v1h-1zM627 277h1v1h-1zM626 275h1v1h-1zM626 272h1v1h-1zM625 269h1v1h-1zM624 266h1v1h-1zM623 263h1v1h-1zM622 260h1v1h-1zM621 257h1v1h-1zM620 255h1v1h-1zM620 252h1v1h-1zM619 249h1v1h-1zM618 246h1v1h-1zM617 243h1v1h-1zM616 240h1v1h-1zM659 363h1v1h-1zM658 360h1v1h-1zM657 357h1v1h-1zM656 354h1v1h-1zM655 351h1v1h-1zM654 348h1v1h-1zM653 346h1v1h-1zM652 343h1v1h-1zM652 340h1v1h-1zM651 337h1v1h-1zM650 334h1v1h-1zM649 331h1v1h-1zM648 328h1v1h-1zM647 326h1v1h-1zM646 323h1v1h-1zM645 320h1v1h-1zM645 317h1v1h-1zM644 314h1v1h-1zM643 311h1v1h-1zM642 308h1v1h-1zM641 305h1v1h-1zM640 303h1v1h-1zM639 300h1v1h-1zM638 297h1v1h-1zM638 294h1v1h-1zM637 291h1v1h-1zM636 288h1v1h-1zM635 285h1v1h-1zM634 283h1v1h-1zM633 280h1v1h-1zM632 277h1v1h-1zM632 274h1v1h-1zM631 271h1v1h-1zM630 268h1v1h-1zM629 265h1v1h-1zM628 263h1v1h-1zM627 260h1v1h-1zM626 257h1v1h-1zM625 254h1v1h-1zM625 251h1v1h-1zM624 248h1v1h-1zM623 245h1v1h-1zM622 243h1v1h-1zM621 240h1v1h-1zM664 362h1v1h-1zM663 359h1v1h-1zM662 356h1v1h-1zM661 354h1v1h-1zM660 351h1v1h-1zM659 348h1v1h-1zM658 345h1v1h-1zM657 342h1v1h-1zM657 339h1v1h-1zM656 336h1v1h-1zM655 334h1v1h-1zM654 331h1v1h-1zM653 328h1v1h-1zM652 325h1v1h-1zM651 322h1v1h-1zM650 319h1v1h-1zM650 316h1v1h-1zM649 314h1v1h-1zM648 311h1v1h-1zM647 308h1v1h-1zM646 305h1v1h-1zM645 302h1v1h-1zM644 299h1v1h-1zM644 296h1v1h-1zM643 294h1v1h-1zM642 291h1v1h-1zM641 288h1v1h-1zM640 285h1v1h-1zM639 282h1v1h-1zM638 279h1v1h-1zM637 276h1v1h-1zM637 273h1v1h-1zM636 271h1v1h-1zM635 268h1v1h-1zM634 265h1v1h-1zM633 262h1v1h-1zM632 259h1v1h-1zM631 256h1v1h-1zM630 253h1v1h-1zM630 251h1v1h-1zM629 248h1v1h-1zM628 245h1v1h-1zM627 242h1v1h-1zM626 239h1v1h-1zM669 362h1v1h-1zM668 359h1v1h-1zM667 356h1v1h-1zM666 353h1v1h-1zM665 350h1v1h-1zM664 347h1v1h-1zM663 344h1v1h-1zM662 342h1v1h-1zM662 339h1v1h-1zM661 336h1v1h-1zM660 333h1v1h-1zM659 330h1v1h-1zM658 327h1v1h-1zM657 324h1v1h-1zM656 322h1v1h-1zM656 319h1v1h-1zM655 316h1v1h-1zM654 313h1v1h-1zM653 310h1v1h-1zM652 307h1v1h-1zM651 304h1v1h-1zM650 302h1v1h-1zM649 299h1v1h-1zM649 296h1v1h-1zM648 293h1v1h-1zM647 290h1v1h-1zM646 287h1v1h-1zM645 284h1v1h-1zM644 282h1v1h-1zM643 279h1v1h-1zM642 276h1v1h-1zM642 273h1v1h-1zM641 270h1v1h-1zM640 267h1v1h-1zM639 264h1v1h-1zM638 262h1v1h-1zM637 259h1v1h-1zM636 256h1v1h-1zM635 253h1v1h-1zM635 250h1v1h-1zM634 247h1v1h-1zM633 244h1v1h-1zM632 241h1v1h-1zM631 239h1v1h-1zM674 361h1v1h-1zM673 358h1v1h-1zM672 355h1v1h-1zM671 353h1v1h-1zM670 350h1v1h-1zM669 347h1v1h-1zM668 344h1v1h-1zM668 341h1v1h-1zM667 338h1v1h-1zM666 335h1v1h-1zM665 332h1v1h-1zM664 330h1v1h-1zM663 327h1v1h-1zM662 324h1v1h-1zM661 321h1v1h-1zM661 318h1v1h-1zM660 315h1v1h-1zM659 312h1v1h-1zM658 310h1v1h-1zM657 307h1v1h-1zM656 304h1v1h-1zM655 301h1v1h-1zM654 298h1v1h-1zM654 295h1v1h-1zM653 292h1v1h-1zM652 290h1v1h-1zM651 287h1v1h-1zM650 284h1v1h-1zM649 281h1v1h-1zM648 278h1v1h-1zM647 275h1v1h-1zM647 272h1v1h-1zM646 270h1v1h-1zM645 267h1v1h-1zM644 264h1v1h-1zM643 261h1v1h-1zM642 258h1v1h-1zM641 255h1v1h-1zM640 252h1v1h-1zM640 250h1v1h-1zM639 247h1v1h-1zM638 244h1v1h-1zM637 241h1v1h-1zM636 238h1v1h-1zM679 361h1v1h-1zM678 358h1v1h-1zM677 355h1v1h-1zM676 352h1v1h-1zM675 349h1v1h-1zM674 346h1v1h-1zM673 343h1v1h-1zM673 341h1v1h-1zM672 338h1v1h-1zM671 335h1v1h-1zM670 332h1v1h-1zM669 329h1v1h-1zM668 326h1v1h-1zM667 323h1v1h-1zM666 321h1v1h-1zM666 318h1v1h-1zM665 315h1v1h-1zM664 312h1v1h-1zM663 309h1v1h-1zM662 306h1v1h-1zM661 303h1v1h-1zM660 300h1v1h-1zM659 298h1v1h-1zM659 295h1v1h-1zM658 292h1v1h-1zM657 289h1v1h-1zM656 286h1v1h-1zM655 283h1v1h-1zM654 280h1v1h-1zM653 278h1v1h-1zM652 275h1v1h-1zM652 272h1v1h-1zM651 269h1v1h-1zM650 266h1v1h-1zM649 263h1v1h-1zM648 260h1v1h-1zM647 258h1v1h-1zM646 255h1v1h-1zM645 252h1v1h-1zM645 249h1v1h-1zM644 246h1v1h-1zM643 243h1v1h-1zM642 240h1v1h-1zM641 238h1v1h-1zM684 360h1v1h-1zM683 357h1v1h-1zM682 354h1v1h-1zM681 351h1v1h-1zM680 349h1v1h-1zM679 346h1v1h-1zM678 343h1v1h-1zM678 340h1v1h-1zM677 337h1v1h-1zM676 334h1v1h-1zM675 331h1v1h-1zM674 329h1v1h-1zM673 326h1v1h-1zM672 323h1v1h-1zM671 320h1v1h-1zM671 317h1v1h-1zM670 314h1v1h-1zM669 311h1v1h-1zM668 309h1v1h-1zM667 306h1v1h-1zM666 303h1v1h-1zM665 300h1v1h-1zM664 297h1v1h-1zM664 294h1v1h-1zM663 291h1v1h-1zM662 289h1v1h-1zM661 286h1v1h-1zM660 283h1v1h-1zM659 280h1v1h-1zM658 277h1v1h-1zM657 274h1v1h-1zM657 271h1v1h-1zM656 268h1v1h-1zM655 266h1v1h-1zM654 263h1v1h-1zM653 260h1v1h-1zM652 257h1v1h-1zM651 254h1v1h-1zM651 251h1v1h-1zM650 248h1v1h-1zM649 246h1v1h-1zM648 243h1v1h-1zM647 240h1v1h-1zM646 237h1v1h-1zM689 359h1v1h-1zM688 357h1v1h-1zM687 354h1v1h-1zM686 351h1v1h-1zM685 348h1v1h-1zM684 345h1v1h-1zM683 342h1v1h-1zM683 339h1v1h-1zM682 337h1v1h-1zM681 334h1v1h-1zM680 331h1v1h-1zM679 328h1v1h-1zM678 325h1v1h-1zM677 322h1v1h-1zM676 319h1v1h-1zM676 317h1v1h-1zM675 314h1v1h-1zM674 311h1v1h-1zM673 308h1v1h-1zM672 305h1v1h-1zM671 302h1v1h-1zM670 299h1v1h-1zM669 297h1v1h-1zM669 294h1v1h-1zM668 291h1v1h-1zM667 288h1v1h-1zM666 285h1v1h-1zM665 282h1v1h-1zM664 279h1v1h-1zM663 277h1v1h-1zM663 274h1v1h-1zM662 271h1v1h-1zM661 268h1v1h-1zM660 265h1v1h-1zM659 262h1v1h-1zM658 259h1v1h-1zM657 257h1v1h-1zM656 254h1v1h-1zM656 251h1v1h-1zM655 248h1v1h-1zM654 245h1v1h-1zM653 242h1v1h-1zM652 239h1v1h-1zM651 236h1v1h-1zM694 359h1v1h-1zM693 356h1v1h-1zM692 353h1v1h-1zM691 350h1v1h-1zM690 348h1v1h-1zM689 345h1v1h-1zM688 342h1v1h-1zM688 339h1v1h-1zM687 336h1v1h-1zM686 333h1v1h-1zM685 330h1v1h-1zM684 327h1v1h-1zM683 325h1v1h-1zM682 322h1v1h-1zM681 319h1v1h-1zM681 316h1v1h-1zM680 313h1v1h-1zM679 310h1v1h-1zM678 307h1v1h-1zM677 305h1v1h-1zM676 302h1v1h-1zM675 299h1v1h-1zM675 296h1v1h-1zM674 293h1v1h-1zM673 290h1v1h-1zM672 287h1v1h-1zM671 285h1v1h-1zM670 282h1v1h-1zM669 279h1v1h-1zM668 276h1v1h-1zM668 273h1v1h-1zM667 270h1v1h-1zM666 267h1v1h-1zM665 265h1v1h-1zM664 262h1v1h-1zM663 259h1v1h-1zM662 256h1v1h-1zM661 253h1v1h-1zM661 250h1v1h-1zM660 247h1v1h-1zM659 245h1v1h-1zM658 242h1v1h-1zM657 239h1v1h-1zM656 236h1v1h-1zM699 358h1v1h-1zM698 356h1v1h-1zM697 353h1v1h-1zM696 350h1v1h-1zM695 347h1v1h-1zM694 344h1v1h-1zM693 341h1v1h-1zM693 338h1v1h-1zM692 336h1v1h-1zM691 333h1v1h-1zM690 330h1v1h-1zM689 327h1v1h-1zM688 324h1v1h-1zM687 321h1v1h-1zM687 318h1v1h-1zM686 316h1v1h-1zM685 313h1v1h-1zM684 310h1v1h-1zM683 307h1v1h-1zM682 304h1v1h-1zM681 301h1v1h-1zM680 298h1v1h-1zM680 295h1v1h-1zM679 293h1v1h-1zM678 290h1v1h-1zM677 287h1v1h-1zM676 284h1v1h-1zM675 281h1v1h-1zM674 278h1v1h-1zM673 275h1v1h-1zM673 273h1v1h-1zM672 270h1v1h-1zM671 267h1v1h-1zM670 264h1v1h-1zM669 261h1v1h-1zM668 258h1v1h-1zM667 255h1v1h-1zM666 253h1v1h-1zM666 250h1v1h-1zM665 247h1v1h-1zM664 244h1v1h-1zM663 241h1v1h-1zM662 238h1v1h-1zM661 235h1v1h-1zM704 358h1v1h-1zM703 355h1v1h-1zM702 352h1v1h-1zM701 349h1v1h-1zM700 346h1v1h-1zM699 344h1v1h-1zM699 341h1v1h-1zM698 338h1v1h-1zM697 335h1v1h-1zM696 332h1v1h-1zM695 329h1v1h-1zM694 326h1v1h-1zM693 324h1v1h-1zM692 321h1v1h-1zM692 318h1v1h-1zM691 315h1v1h-1zM690 312h1v1h-1zM689 309h1v1h-1zM688 306h1v1h-1zM687 304h1v1h-1zM686 301h1v1h-1zM685 298h1v1h-1zM685 295h1v1h-1zM684 292h1v1h-1zM683 289h1v1h-1zM682 286h1v1h-1zM681 284h1v1h-1zM680 281h1v1h-1zM679 278h1v1h-1zM678 275h1v1h-1zM678 272h1v1h-1zM677 269h1v1h-1zM676 266h1v1h-1zM675 263h1v1h-1zM674 261h1v1h-1zM673 258h1v1h-1zM672 255h1v1h-1zM671 252h1v1h-1zM671 249h1v1h-1zM670 246h1v1h-1zM669 243h1v1h-1zM668 241h1v1h-1zM667 238h1v1h-1zM666 235h1v1h-1zM709 357h1v1h-1zM708 354h1v1h-1zM707 352h1v1h-1zM706 349h1v1h-1zM705 346h1v1h-1zM704 343h1v1h-1zM704 340h1v1h-1zM703 337h1v1h-1zM702 334h1v1h-1zM701 332h1v1h-1zM700 329h1v1h-1zM699 326h1v1h-1zM698 323h1v1h-1zM697 320h1v1h-1zM697 317h1v1h-1zM696 314h1v1h-1zM695 312h1v1h-1zM694 309h1v1h-1zM693 306h1v1h-1zM692 303h1v1h-1zM691 300h1v1h-1zM690 297h1v1h-1zM690 294h1v1h-1zM689 292h1v1h-1zM688 289h1v1h-1zM687 286h1v1h-1zM686 283h1v1h-1zM685 280h1v1h-1zM684 277h1v1h-1zM683 274h1v1h-1zM683 272h1v1h-1zM682 269h1v1h-1zM681 266h1v1h-1zM680 263h1v1h-1zM679 260h1v1h-1zM678 257h1v1h-1zM677 254h1v1h-1zM676 252h1v1h-1zM676 249h1v1h-1zM675 246h1v1h-1zM674 243h1v1h-1zM673 240h1v1h-1zM672 237h1v1h-1zM671 234h1v1h-1zM714 357h1v1h-1zM713 354h1v1h-1zM712 351h1v1h-1zM711 348h1v1h-1zM710 345h1v1h-1zM709 343h1v1h-1zM709 340h1v1h-1zM708 337h1v1h-1zM707 334h1v1h-1zM706 331h1v1h-1zM705 328h1v1h-1zM704 325h1v1h-1zM703 322h1v1h-1zM702 320h1v1h-1zM702 317h1v1h-1zM701 314h1v1h-1zM700 311h1v1h-1zM699 308h1v1h-1zM698 305h1v1h-1zM697 302h1v1h-1zM696 300h1v1h-1zM695 297h1v1h-1zM695 294h1v1h-1zM694 291h1v1h-1zM693 288h1v1h-1zM692 285h1v1h-1zM691 282h1v1h-1zM690 280h1v1h-1zM689 277h1v1h-1zM688 274h1v1h-1zM688 271h1v1h-1zM687 268h1v1h-1zM686 265h1v1h-1zM685 262h1v1h-1zM684 260h1v1h-1zM683 257h1v1h-1zM682 254h1v1h-1zM682 251h1v1h-1zM681 248h1v1h-1zM680 245h1v1h-1zM679 242h1v1h-1zM678 240h1v1h-1zM677 237h1v1h-1zM676 234h1v1h-1zM719 356h1v1h-1zM718 353h1v1h-1zM717 351h1v1h-1zM716 348h1v1h-1zM715 345h1v1h-1zM714 342h1v1h-1zM714 339h1v1h-1zM713 336h1v1h-1zM712 333h1v1h-1zM711 331h1v1h-1zM710 328h1v1h-1zM709 325h1v1h-1zM708 322h1v1h-1zM707 319h1v1h-1zM707 316h1v1h-1zM706 313h1v1h-1zM705 311h1v1h-1zM704 308h1v1h-1zM703 305h1v1h-1zM702 302h1v1h-1zM701 299h1v1h-1zM700 296h1v1h-1zM700 293h1v1h-1zM699 290h1v1h-1zM698 288h1v1h-1zM697 285h1v1h-1zM696 282h1v1h-1zM695 279h1v1h-1zM694 276h1v1h-1zM694 273h1v1h-1zM693 270h1v1h-1zM692 268h1v1h-1zM691 265h1v1h-1zM690 262h1v1h-1zM689 259h1v1h-1zM688 256h1v1h-1zM687 253h1v1h-1zM687 250h1v1h-1zM686 248h1v1h-1zM685 245h1v1h-1zM684 242h1v1h-1zM683 239h1v1h-1zM682 236h1v1h-1zM681 233h1v1h-1zM724 356h1v1h-1zM723 353h1v1h-1zM722 350h1v1h-1zM721 347h1v1h-1zM720 344h1v1h-1zM719 341h1v1h-1zM719 339h1v1h-1zM718 336h1v1h-1zM717 333h1v1h-1zM716 330h1v1h-1zM715 327h1v1h-1zM714 324h1v1h-1zM713 321h1v1h-1zM712 319h1v1h-1zM712 316h1v1h-1zM711 313h1v1h-1zM710 310h1v1h-1zM709 307h1v1h-1zM708 304h1v1h-1zM707 301h1v1h-1zM706 299h1v1h-1zM706 296h1v1h-1zM705 293h1v1h-1zM704 290h1v1h-1zM703 287h1v1h-1zM702 284h1v1h-1zM701 281h1v1h-1zM700 279h1v1h-1zM699 276h1v1h-1zM699 273h1v1h-1zM698 270h1v1h-1zM697 267h1v1h-1zM696 264h1v1h-1zM695 261h1v1h-1zM694 258h1v1h-1zM693 256h1v1h-1zM692 253h1v1h-1zM692 250h1v1h-1zM691 247h1v1h-1zM690 244h1v1h-1zM689 241h1v1h-1zM688 238h1v1h-1zM687 236h1v1h-1zM686 233h1v1h-1zM729 355h1v1h-1zM728 352h1v1h-1zM727 349h1v1h-1zM726 347h1v1h-1zM725 344h1v1h-1zM724 341h1v1h-1zM724 338h1v1h-1zM723 335h1v1h-1zM722 332h1v1h-1zM721 329h1v1h-1zM720 327h1v1h-1zM719 324h1v1h-1zM718 321h1v1h-1zM718 318h1v1h-1zM717 315h1v1h-1zM716 312h1v1h-1zM715 309h1v1h-1zM714 307h1v1h-1zM713 304h1v1h-1zM712 301h1v1h-1zM711 298h1v1h-1zM711 295h1v1h-1zM710 292h1v1h-1zM709 289h1v1h-1zM708 287h1v1h-1zM707 284h1v1h-1zM706 281h1v1h-1zM705 278h1v1h-1zM704 275h1v1h-1zM704 272h1v1h-1zM703 269h1v1h-1zM702 267h1v1h-1zM701 264h1v1h-1zM700 261h1v1h-1zM699 258h1v1h-1zM698 255h1v1h-1zM697 252h1v1h-1zM697 249h1v1h-1zM696 247h1v1h-1zM695 244h1v1h-1zM694 241h1v1h-1zM693 238h1v1h-1zM692 235h1v1h-1zM691 232h1v1h-1zM734 355h1v1h-1zM733 352h1v1h-1zM732 349h1v1h-1zM731 346h1v1h-1zM730 343h1v1h-1zM730 340h1v1h-1zM729 338h1v1h-1zM728 335h1v1h-1zM727 332h1v1h-1zM726 329h1v1h-1zM725 326h1v1h-1zM724 323h1v1h-1zM723 320h1v1h-1zM723 317h1v1h-1zM722 315h1v1h-1zM721 312h1v1h-1zM720 309h1v1h-1zM719 306h1v1h-1zM718 303h1v1h-1zM717 300h1v1h-1zM716 297h1v1h-1zM716 295h1v1h-1zM715 292h1v1h-1zM714 289h1v1h-1zM713 286h1v1h-1zM712 283h1v1h-1zM711 280h1v1h-1zM710 277h1v1h-1zM709 275h1v1h-1zM709 272h1v1h-1zM708 269h1v1h-1zM707 266h1v1h-1zM706 263h1v1h-1zM705 260h1v1h-1zM704 257h1v1h-1zM703 255h1v1h-1zM702 252h1v1h-1zM702 249h1v1h-1zM701 246h1v1h-1zM700 243h1v1h-1zM699 240h1v1h-1zM698 237h1v1h-1zM697 235h1v1h-1zM696 232h1v1h-1zM739 354h1v1h-1zM738 351h1v1h-1zM737 348h1v1h-1zM736 346h1v1h-1zM735 343h1v1h-1zM735 340h1v1h-1zM734 337h1v1h-1zM733 334h1v1h-1zM732 331h1v1h-1zM731 328h1v1h-1zM730 326h1v1h-1zM729 323h1v1h-1zM728 320h1v1h-1zM728 317h1v1h-1zM727 314h1v1h-1zM726 311h1v1h-1zM725 308h1v1h-1zM724 306h1v1h-1zM723 303h1v1h-1zM722 300h1v1h-1zM721 297h1v1h-1zM721 294h1v1h-1zM720 291h1v1h-1zM719 288h1v1h-1zM718 285h1v1h-1zM717 283h1v1h-1zM716 280h1v1h-1zM715 277h1v1h-1zM714 274h1v1h-1zM714 271h1v1h-1zM713 268h1v1h-1zM712 265h1v1h-1zM711 263h1v1h-1zM710 260h1v1h-1zM709 257h1v1h-1zM708 254h1v1h-1zM708 251h1v1h-1zM707 248h1v1h-1zM706 245h1v1h-1zM705 243h1v1h-1zM704 240h1v1h-1zM703 237h1v1h-1zM702 234h1v1h-1zM701 231h1v1h-1zM744 354h1v1h-1zM743 351h1v1h-1zM742 348h1v1h-1zM741 345h1v1h-1zM740 342h1v1h-1zM740 339h1v1h-1zM739 336h1v1h-1zM738 334h1v1h-1zM737 331h1v1h-1zM736 328h1v1h-1zM735 325h1v1h-1zM734 322h1v1h-1zM733 319h1v1h-1zM733 316h1v1h-1zM732 314h1v1h-1zM731 311h1v1h-1zM730 308h1v1h-1zM729 305h1v1h-1zM728 302h1v1h-1zM727 299h1v1h-1zM726 296h1v1h-1zM726 294h1v1h-1zM725 291h1v1h-1zM724 288h1v1h-1zM723 285h1v1h-1zM722 282h1v1h-1zM721 279h1v1h-1zM720 276h1v1h-1zM720 274h1v1h-1zM719 271h1v1h-1zM718 268h1v1h-1zM717 265h1v1h-1zM716 262h1v1h-1zM715 259h1v1h-1zM714 256h1v1h-1zM713 253h1v1h-1zM713 251h1v1h-1zM712 248h1v1h-1zM711 245h1v1h-1zM710 242h1v1h-1zM709 239h1v1h-1zM708 236h1v1h-1zM707 233h1v1h-1zM706 231h1v1h-1zM749 353h1v1h-1zM748 350h1v1h-1zM747 347h1v1h-1zM746 344h1v1h-1zM745 342h1v1h-1zM745 339h1v1h-1zM744 336h1v1h-1zM743 333h1v1h-1zM742 330h1v1h-1zM741 327h1v1h-1zM740 324h1v1h-1zM739 322h1v1h-1zM738 319h1v1h-1zM738 316h1v1h-1zM737 313h1v1h-1zM736 310h1v1h-1zM735 307h1v1h-1zM734 304h1v1h-1zM733 302h1v1h-1zM732 299h1v1h-1zM732 296h1v1h-1zM731 293h1v1h-1zM730 290h1v1h-1zM729 287h1v1h-1zM728 284h1v1h-1zM727 282h1v1h-1zM726 279h1v1h-1zM725 276h1v1h-1zM725 273h1v1h-1zM724 270h1v1h-1zM723 267h1v1h-1zM722 264h1v1h-1zM721 262h1v1h-1zM720 259h1v1h-1zM719 256h1v1h-1zM718 253h1v1h-1zM718 250h1v1h-1zM717 247h1v1h-1zM716 244h1v1h-1zM715 242h1v1h-1zM714 239h1v1h-1zM713 236h1v1h-1zM712 233h1v1h-1zM711 230h1v1h-1zM754 353h1v1h-1zM753 350h1v1h-1zM752 347h1v1h-1zM751 344h1v1h-1zM750 341h1v1h-1zM750 338h1v1h-1zM749 335h1v1h-1zM748 333h1v1h-1zM747 330h1v1h-1zM746 327h1v1h-1zM745 324h1v1h-1zM744 321h1v1h-1zM744 318h1v1h-1zM743 315h1v1h-1zM742 312h1v1h-1zM741 310h1v1h-1zM740 307h1v1h-1zM739 304h1v1h-1zM738 301h1v1h-1zM737 298h1v1h-1zM737 295h1v1h-1zM736 292h1v1h-1zM735 290h1v1h-1zM734 287h1v1h-1zM733 284h1v1h-1zM732 281h1v1h-1zM731 278h1v1h-1zM730 275h1v1h-1zM730 272h1v1h-1zM729 270h1v1h-1zM728 267h1v1h-1zM727 264h1v1h-1zM726 261h1v1h-1zM725 258h1v1h-1zM724 255h1v1h-1zM723 252h1v1h-1zM723 250h1v1h-1zM722 247h1v1h-1zM721 244h1v1h-1zM720 241h1v1h-1zM719 238h1v1h-1zM718 235h1v1h-1zM717 232h1v1h-1zM716 230h1v1h-1zM759 352h1v1h-1zM758 349h1v1h-1zM757 346h1v1h-1zM756 343h1v1h-1zM756 341h1v1h-1zM755 338h1v1h-1zM754 335h1v1h-1zM753 332h1v1h-1zM752 329h1v1h-1zM751 326h1v1h-1zM750 323h1v1h-1zM749 321h1v1h-1zM749 318h1v1h-1zM748 315h1v1h-1zM747 312h1v1h-1zM746 309h1v1h-1zM745 306h1v1h-1zM744 303h1v1h-1zM743 301h1v1h-1zM742 298h1v1h-1zM742 295h1v1h-1zM741 292h1v1h-1zM740 289h1v1h-1zM739 286h1v1h-1zM738 283h1v1h-1zM737 280h1v1h-1zM736 278h1v1h-1zM735 275h1v1h-1zM735 272h1v1h-1zM734 269h1v1h-1zM733 266h1v1h-1zM732 263h1v1h-1zM731 260h1v1h-1zM730 258h1v1h-1zM729 255h1v1h-1zM728 252h1v1h-1zM728 249h1v1h-1zM727 246h1v1h-1zM726 243h1v1h-1zM725 240h1v1h-1zM724 238h1v1h-1zM723 235h1v1h-1zM722 232h1v1h-1zM722 229h1v1h-1z" fill="#1a1a1a" shape-rendering="crispEdges"/>
<polygon points="535.2,280.0 537.8,300.8 545.6,319.0 556.0,329.5 571.7,340.0 595.0,349.0 618.6,355.6 639.4,355.6 668.0,350.3 691.5,340.0 712.4,327.0 725.4,311.0 730.6,293.0 732.0,280.0 700.0,255.0 641.0,240.0 620.0,241.5 599.0,245.6 560.0,265.0" fill="#020494"/>
<polygon points="599.6,244.8 640.4,241.1 634.8,254 638.5,278 632,298 614.4,300 614.4,285.6 607,267" fill="#00027c"/>
<clipPath id="lc"><polygon points="555.3,111.8 558.2,115.3 561.6,130.6 564.2,149.4 569.3,173.4 575.3,187.0 583.0,200.7 588.0,212.7 591.5,225.0 595.4,233.5 599.6,244.8 607.0,267.0 614.4,285.6 614.4,304.0 607.0,316.0 590.0,328.0 572.0,337.0 556.0,329.5 545.6,319.0 539.0,305.0 538.0,289.0 538.0,252.0 538.9,215.0 540.6,199.0 542.0,182.0 543.7,164.8 545.4,147.7 547.0,130.6 550.5,117.0"/></clipPath><clipPath id="rc"><polygon points="706.0,123.5 712.0,126.5 717.4,147.0 721.0,184.0 723.0,221.0 728.5,258.0 730.4,295.0 725.4,311.0 712.0,322.0 690.0,317.0 673.7,315.2 664.4,307.8 662.6,296.7 649.6,285.6 638.5,278.0 634.8,254.0 640.4,241.1 650.7,224.8 661.9,202.6 673.0,180.4 684.0,150.7 695.2,134.0 701.0,127.5"/></clipPath>
<g clip-path="url(#lc)"><polygon points="535.0,72.0 537.5,72.0 540.0,72.0 542.5,72.0 545.0,72.0 547.5,72.0 550.0,72.0 552.5,72.0 555.0,72.0 557.5,72.0 560.0,72.0 562.5,72.0 565.0,72.0 567.5,72.0 570.0,72.0 572.5,72.0 575.0,72.0 577.5,72.0 580.0,72.0 582.5,72.0 585.0,72.0 587.5,72.0 590.0,72.0 592.5,72.0 595.0,72.0 597.5,72.0 600.0,72.0 602.5,72.0 605.0,72.0 607.5,72.0 610.0,72.0 612.5,72.0 615.0,72.0 617.5,72.0 620.0,72.0 622.5,72.0 622.5,139.5 620.0,141.0 617.5,142.2 615.0,142.0 612.5,143.1 610.0,143.0 607.5,145.0 605.0,143.9 602.5,144.3 600.0,144.5 597.5,144.4 595.0,145.7 592.5,144.6 590.0,147.0 587.5,145.4 585.0,147.7 582.5,149.0 580.0,149.2 577.5,151.5 575.0,150.5 572.5,148.5 570.0,151.2 567.5,152.9 565.0,151.6 562.5,151.6 560.0,152.6 557.5,154.8 555.0,154.1 552.5,154.6 550.0,154.7 547.5,155.9 545.0,156.0 542.5,156.3 540.0,157.4 537.5,157.8 535.0,158.0" fill="#e00c0c"/><polygon points="535.0,158.0 537.5,157.8 540.0,157.4 542.5,156.3 545.0,156.0 547.5,155.9 550.0,154.7 552.5,154.6 555.0,154.1 557.5,154.8 560.0,152.6 562.5,151.6 565.0,151.6 567.5,152.9 570.0,151.2 572.5,148.5 575.0,150.5 577.5,151.5 580.0,149.2 582.5,149.0 585.0,147.7 587.5,145.4 590.0,147.0 592.5,144.6 595.0,145.7 597.5,144.4 600.0,144.5 602.5,144.3 605.0,143.9 607.5,145.0 610.0,143.0 612.5,143.1 615.0,142.0 617.5,142.2 620.0,141.0 622.5,139.5 622.5,154.3 620.0,155.1 617.5,154.1 615.0,156.3 612.5,154.6 610.0,156.6 607.5,156.4 605.0,157.6 602.5,159.6 600.0,159.5 597.5,158.8 595.0,159.6 592.5,159.5 590.0,161.3 587.5,162.1 585.0,161.6 582.5,162.0 580.0,163.5 577.5,163.4 575.0,164.4 572.5,163.2 570.0,164.5 567.5,167.0 565.0,166.5 562.5,166.0 560.0,167.3 557.5,167.1 555.0,168.3 552.5,166.6 550.0,168.8 547.5,168.3 545.0,169.8 542.5,171.4 540.0,171.3 537.5,173.7 535.0,172.5" fill="#f04c10"/><polygon points="535.0,172.5 537.5,173.7 540.0,171.3 542.5,171.4 545.0,169.8 547.5,168.3 550.0,168.8 552.5,166.6 555.0,168.3 557.5,167.1 560.0,167.3 562.5,166.0 565.0,166.5 567.5,167.0 570.0,164.5 572.5,163.2 575.0,164.4 577.5,163.4 580.0,163.5 582.5,162.0 585.0,161.6 587.5,162.1 590.0,161.3 592.5,159.5 595.0,159.6 597.5,158.8 600.0,159.5 602.5,159.6 605.0,157.6 607.5,156.4 610.0,156.6 612.5,154.6 615.0,156.3 617.5,154.1 620.0,155.1 622.5,154.3 622.5,170.0 620.0,171.7 617.5,174.1 615.0,173.1 612.5,173.4 610.0,174.5 607.5,174.3 605.0,174.9 602.5,175.9 600.0,175.7 597.5,176.9 595.0,176.6 592.5,175.6 590.0,177.8 587.5,177.7 585.0,179.3 582.5,178.4 580.0,179.7 577.5,182.7 575.0,180.6 572.5,182.1 570.0,182.4 567.5,182.0 565.0,182.7 562.5,185.2 560.0,183.8 557.5,185.8 555.0,185.5 552.5,184.5 550.0,185.7 547.5,186.2 545.0,186.6 542.5,188.1 540.0,187.6 537.5,189.5 535.0,188.7" fill="#f08420"/><polygon points="535.0,188.7 537.5,189.5 540.0,187.6 542.5,188.1 545.0,186.6 547.5,186.2 550.0,185.7 552.5,184.5 555.0,185.5 557.5,185.8 560.0,183.8 562.5,185.2 565.0,182.7 567.5,182.0 570.0,182.4 572.5,182.1 575.0,180.6 577.5,182.7 580.0,179.7 582.5,178.4 585.0,179.3 587.5,177.7 590.0,177.8 592.5,175.6 595.0,176.6 597.5,176.9 600.0,175.7 602.5,175.9 605.0,174.9 607.5,174.3 610.0,174.5 612.5,173.4 615.0,173.1 617.5,174.1 620.0,171.7 622.5,170.0 622.5,180.9 620.0,181.7 617.5,180.6 615.0,182.9 612.5,182.5 610.0,183.5 607.5,183.2 605.0,185.4 602.5,184.5 600.0,186.1 597.5,188.1 595.0,187.1 592.5,186.3 590.0,187.6 587.5,189.5 585.0,188.7 582.5,188.6 580.0,190.1 577.5,191.9 575.0,190.8 572.5,192.4 570.0,191.7 567.5,194.5 565.0,192.5 562.5,191.8 560.0,193.9 557.5,195.0 555.0,195.4 552.5,197.5 550.0,195.7 547.5,198.4 545.0,197.2 542.5,196.1 540.0,197.7 537.5,199.9 535.0,199.4" fill="#f0bc28"/><polygon points="535.0,199.4 537.5,199.9 540.0,197.7 542.5,196.1 545.0,197.2 547.5,198.4 550.0,195.7 552.5,197.5 555.0,195.4 557.5,195.0 560.0,193.9 562.5,191.8 565.0,192.5 567.5,194.5 570.0,191.7 572.5,192.4 575.0,190.8 577.5,191.9 580.0,190.1 582.5,188.6 585.0,188.7 587.5,189.5 590.0,187.6 592.5,186.3 595.0,187.1 597.5,188.1 600.0,186.1 602.5,184.5 605.0,185.4 607.5,183.2 610.0,183.5 612.5,182.5 615.0,182.9 617.5,180.6 620.0,181.7 622.5,180.9 622.5,198.8 620.0,199.4 617.5,200.8 615.0,199.9 612.5,202.1 610.0,201.4 607.5,202.3 605.0,201.9 602.5,204.3 600.0,203.3 597.5,204.4 595.0,204.2 592.5,206.3 590.0,205.2 587.5,205.7 585.0,205.6 582.5,208.7 580.0,206.8 577.5,208.5 575.0,208.0 572.5,209.1 570.0,208.5 567.5,211.5 565.0,210.2 562.5,212.3 560.0,210.5 557.5,209.5 555.0,211.6 552.5,212.9 550.0,213.2 547.5,214.2 545.0,214.5 542.5,216.2 540.0,214.9 537.5,213.9 535.0,216.1" fill="#eef020"/><polygon points="535.0,216.1 537.5,213.9 540.0,214.9 542.5,216.2 545.0,214.5 547.5,214.2 550.0,213.2 552.5,212.9 555.0,211.6 557.5,209.5 560.0,210.5 562.5,212.3 565.0,210.2 567.5,211.5 570.0,208.5 572.5,209.1 575.0,208.0 577.5,208.5 580.0,206.8 582.5,208.7 585.0,205.6 587.5,205.7 590.0,205.2 592.5,206.3 595.0,204.2 597.5,204.4 600.0,203.3 602.5,204.3 605.0,201.9 607.5,202.3 610.0,201.4 612.5,202.1 615.0,199.9 617.5,200.8 620.0,199.4 622.5,198.8 622.5,213.2 620.0,212.8 617.5,215.2 615.0,213.9 612.5,215.2 610.0,215.4 607.5,214.0 605.0,215.7 602.5,217.3 600.0,216.8 597.5,215.3 595.0,217.8 592.5,220.4 590.0,219.1 587.5,219.5 585.0,220.2 582.5,219.3 580.0,221.0 577.5,221.9 575.0,221.5 572.5,223.6 570.0,222.6 567.5,225.0 565.0,223.9 562.5,224.9 560.0,225.2 557.5,225.0 555.0,226.2 552.5,228.2 550.0,227.5 547.5,228.1 545.0,227.6 542.5,229.0 540.0,229.1 537.5,229.0 535.0,230.1" fill="#a8ec20"/><polygon points="535.0,230.1 537.5,229.0 540.0,229.1 542.5,229.0 545.0,227.6 547.5,228.1 550.0,227.5 552.5,228.2 555.0,226.2 557.5,225.0 560.0,225.2 562.5,224.9 565.0,223.9 567.5,225.0 570.0,222.6 572.5,223.6 575.0,221.5 577.5,221.9 580.0,221.0 582.5,219.3 585.0,220.2 587.5,219.5 590.0,219.1 592.5,220.4 595.0,217.8 597.5,215.3 600.0,216.8 602.5,217.3 605.0,215.7 607.5,214.0 610.0,215.4 612.5,215.2 615.0,213.9 617.5,215.2 620.0,212.8 622.5,213.2 622.5,223.9 620.0,225.5 617.5,227.8 615.0,226.8 612.5,227.8 610.0,228.2 607.5,226.5 605.0,229.4 602.5,227.4 600.0,229.6 597.5,230.3 595.0,231.5 592.5,233.0 590.0,231.8 587.5,232.5 585.0,233.1 582.5,233.1 580.0,233.7 577.5,233.5 575.0,235.0 572.5,234.0 570.0,235.8 567.5,238.5 565.0,237.2 562.5,239.0 560.0,238.3 557.5,238.5 555.0,238.6 552.5,238.7 550.0,240.1 547.5,240.0 545.0,241.4 542.5,243.3 540.0,242.3 537.5,242.2 535.0,242.7" fill="#30e030"/><polygon points="535.0,242.7 537.5,242.2 540.0,242.3 542.5,243.3 545.0,241.4 547.5,240.0 550.0,240.1 552.5,238.7 555.0,238.6 557.5,238.5 560.0,238.3 562.5,239.0 565.0,237.2 567.5,238.5 570.0,235.8 572.5,234.0 575.0,235.0 577.5,233.5 580.0,233.7 582.5,233.1 585.0,233.1 587.5,232.5 590.0,231.8 592.5,233.0 595.0,231.5 597.5,230.3 600.0,229.6 602.5,227.4 605.0,229.4 607.5,226.5 610.0,228.2 612.5,227.8 615.0,226.8 617.5,227.8 620.0,225.5 622.5,223.9 622.5,238.3 620.0,237.1 617.5,237.3 615.0,237.6 612.5,239.5 610.0,239.4 607.5,237.7 605.0,240.4 602.5,241.8 600.0,240.9 597.5,242.6 595.0,242.1 592.5,242.6 590.0,243.2 587.5,242.8 585.0,243.8 582.5,243.1 580.0,245.2 577.5,245.4 575.0,245.5 572.5,245.1 570.0,247.0 567.5,246.2 565.0,248.2 562.5,250.5 560.0,249.3 557.5,250.2 555.0,250.1 552.5,250.3 550.0,251.1 547.5,249.5 545.0,251.6 542.5,251.3 540.0,253.3 537.5,251.4 535.0,254.0" fill="#30e8a8"/><polygon points="535.0,254.0 537.5,251.4 540.0,253.3 542.5,251.3 545.0,251.6 547.5,249.5 550.0,251.1 552.5,250.3 555.0,250.1 557.5,250.2 560.0,249.3 562.5,250.5 565.0,248.2 567.5,246.2 570.0,247.0 572.5,245.1 575.0,245.5 577.5,245.4 580.0,245.2 582.5,243.1 585.0,243.8 587.5,242.8 590.0,243.2 592.5,242.6 595.0,242.1 597.5,242.6 600.0,240.9 602.5,241.8 605.0,240.4 607.5,237.7 610.0,239.4 612.5,239.5 615.0,237.6 617.5,237.3 620.0,237.1 622.5,238.3 622.5,252.0 620.0,253.6 617.5,255.8 615.0,254.8 612.5,254.1 610.0,256.3 607.5,254.6 605.0,257.3 602.5,255.4 600.0,258.0 597.5,259.7 595.0,259.1 592.5,259.2 590.0,259.6 587.5,259.8 585.0,261.4 582.5,263.3 580.0,261.8 577.5,263.8 575.0,263.0 572.5,265.6 570.0,264.5 567.5,266.3 565.0,264.7 562.5,266.5 560.0,266.1 557.5,267.9 555.0,267.2 552.5,266.2 550.0,268.2 547.5,268.3 545.0,269.4 542.5,270.8 540.0,270.4 537.5,270.8 535.0,270.9" fill="#20e0f0"/><polygon points="535.0,270.9 537.5,270.8 540.0,270.4 542.5,270.8 545.0,269.4 547.5,268.3 550.0,268.2 552.5,266.2 555.0,267.2 557.5,267.9 560.0,266.1 562.5,266.5 565.0,264.7 567.5,266.3 570.0,264.5 572.5,265.6 575.0,263.0 577.5,263.8 580.0,261.8 582.5,263.3 585.0,261.4 587.5,259.8 590.0,259.6 592.5,259.2 595.0,259.1 597.5,259.7 600.0,258.0 602.5,255.4 605.0,257.3 607.5,254.6 610.0,256.3 612.5,254.1 615.0,254.8 617.5,255.8 620.0,253.6 622.5,252.0 622.5,270.5 620.0,271.1 617.5,272.8 615.0,271.9 612.5,272.6 610.0,273.5 607.5,271.4 605.0,274.1 602.5,274.5 600.0,275.0 597.5,274.2 595.0,276.1 592.5,276.6 590.0,277.5 587.5,279.0 585.0,277.7 582.5,280.3 580.0,279.3 577.5,279.0 575.0,279.8 572.5,280.8 570.0,281.3 567.5,281.6 565.0,282.1 562.5,283.5 560.0,282.8 557.5,283.6 555.0,283.7 552.5,282.7 550.0,285.4 547.5,285.5 545.0,286.4 542.5,287.3 540.0,287.3 537.5,288.5 535.0,288.0" fill="#20a0f0"/><polygon points="535.0,288.0 537.5,288.5 540.0,287.3 542.5,287.3 545.0,286.4 547.5,285.5 550.0,285.4 552.5,282.7 555.0,283.7 557.5,283.6 560.0,282.8 562.5,283.5 565.0,282.1 567.5,281.6 570.0,281.3 572.5,280.8 575.0,279.8 577.5,279.0 580.0,279.3 582.5,280.3 585.0,277.7 587.5,279.0 590.0,277.5 592.5,276.6 595.0,276.1 597.5,274.2 600.0,275.0 602.5,274.5 605.0,274.1 607.5,271.4 610.0,273.5 612.5,272.6 615.0,271.9 617.5,272.8 620.0,271.1 622.5,270.5 622.5,294.1 620.0,294.9 617.5,295.2 615.0,296.0 612.5,295.2 610.0,296.8 607.5,297.5 605.0,297.6 602.5,299.5 600.0,298.6 597.5,300.0 595.0,299.9 592.5,299.7 590.0,301.2 587.5,300.3 585.0,301.7 582.5,300.4 580.0,303.3 577.5,301.9 575.0,304.4 572.5,305.0 570.0,304.7 567.5,304.7 565.0,306.0 562.5,308.3 560.0,307.3 557.5,307.2 555.0,307.6 552.5,308.4 550.0,308.8 547.5,311.4 545.0,310.5 542.5,310.1 540.0,311.0 537.5,309.6 535.0,312.2" fill="#2060f0"/><polygon points="535.0,312.2 537.5,309.6 540.0,311.0 542.5,310.1 545.0,310.5 547.5,311.4 550.0,308.8 552.5,308.4 555.0,307.6 557.5,307.2 560.0,307.3 562.5,308.3 565.0,306.0 567.5,304.7 570.0,304.7 572.5,305.0 575.0,304.4 577.5,301.9 580.0,303.3 582.5,300.4 585.0,301.7 587.5,300.3 590.0,301.2 592.5,299.7 595.0,299.9 597.5,300.0 600.0,298.6 602.5,299.5 605.0,297.6 607.5,297.5 610.0,296.8 612.5,295.2 615.0,296.0 617.5,295.2 620.0,294.9 622.5,294.1 622.5,309.8 620.0,312.5 617.5,314.3 615.0,313.2 612.5,312.2 610.0,313.5 607.5,315.3 605.0,314.9 602.5,313.9 600.0,316.3 597.5,316.2 595.0,317.3 592.5,315.7 590.0,317.8 587.5,319.5 585.0,318.7 582.5,317.9 580.0,320.4 577.5,322.7 575.0,320.7 572.5,323.4 570.0,321.8 567.5,321.7 565.0,323.4 562.5,324.9 560.0,324.2 557.5,323.3 555.0,325.4 552.5,326.0 550.0,326.4 547.5,326.6 545.0,327.1 542.5,328.1 540.0,327.7 537.5,327.0 535.0,329.0" fill="#1838d8"/><polygon points="535.0,329.0 537.5,327.0 540.0,327.7 542.5,328.1 545.0,327.1 547.5,326.6 550.0,326.4 552.5,326.0 555.0,325.4 557.5,323.3 560.0,324.2 562.5,324.9 565.0,323.4 567.5,321.7 570.0,321.8 572.5,323.4 575.0,320.7 577.5,322.7 580.0,320.4 582.5,317.9 585.0,318.7 587.5,319.5 590.0,317.8 592.5,315.7 595.0,317.3 597.5,316.2 600.0,316.3 602.5,313.9 605.0,314.9 607.5,315.3 610.0,313.5 612.5,312.2 615.0,313.2 617.5,314.3 620.0,312.5 622.5,309.8 622.5,400.0 620.0,400.0 617.5,400.0 615.0,400.0 612.5,400.0 610.0,400.0 607.5,400.0 605.0,400.0 602.5,400.0 600.0,400.0 597.5,400.0 595.0,400.0 592.5,400.0 590.0,400.0 587.5,400.0 585.0,400.0 582.5,400.0 580.0,400.0 577.5,400.0 575.0,400.0 572.5,400.0 570.0,400.0 567.5,400.0 565.0,400.0 562.5,400.0 560.0,400.0 557.5,400.0 555.0,400.0 552.5,400.0 550.0,400.0 547.5,400.0 545.0,400.0 542.5,400.0 540.0,400.0 537.5,400.0 535.0,400.0" fill="#0810a8"/></g>
<g clip-path="url(#rc)"><polygon points="625.0,85.0 627.5,85.0 630.0,85.0 632.5,85.0 635.0,85.0 637.5,85.0 640.0,85.0 642.5,85.0 645.0,85.0 647.5,85.0 650.0,85.0 652.5,85.0 655.0,85.0 657.5,85.0 660.0,85.0 662.5,85.0 665.0,85.0 667.5,85.0 670.0,85.0 672.5,85.0 675.0,85.0 677.5,85.0 680.0,85.0 682.5,85.0 685.0,85.0 687.5,85.0 690.0,85.0 692.5,85.0 695.0,85.0 697.5,85.0 700.0,85.0 702.5,85.0 705.0,85.0 707.5,85.0 710.0,85.0 712.5,85.0 715.0,85.0 717.5,85.0 720.0,85.0 722.5,85.0 725.0,85.0 727.5,85.0 730.0,85.0 732.5,85.0 735.0,85.0 737.5,85.0 737.5,161.4 735.0,161.2 732.5,159.2 730.0,159.9 727.5,158.2 725.0,159.2 722.5,157.4 720.0,157.2 717.5,155.4 715.0,156.2 712.5,155.1 710.0,154.8 707.5,154.9 705.0,153.3 702.5,150.8 700.0,151.7 697.5,151.9 695.0,150.6 692.5,149.2 690.0,149.3 687.5,147.8 685.0,148.2 682.5,147.5 680.0,146.4 677.5,146.0 675.0,145.2 672.5,142.2 670.0,143.3 667.5,143.8 665.0,142.1 662.5,141.0 660.0,140.9 657.5,138.2 655.0,138.8 652.5,138.4 650.0,137.6 647.5,136.9 645.0,136.2 642.5,134.2 640.0,135.1 637.5,134.0 635.0,133.8 632.5,131.1 630.0,132.7 627.5,133.6 625.0,131.3" fill="#e86814"/><polygon points="625.0,131.3 627.5,133.6 630.0,132.7 632.5,131.1 635.0,133.8 637.5,134.0 640.0,135.1 642.5,134.2 645.0,136.2 647.5,136.9 650.0,137.6 652.5,138.4 655.0,138.8 657.5,138.2 660.0,140.9 662.5,141.0 665.0,142.1 667.5,143.8 670.0,143.3 672.5,142.2 675.0,145.2 677.5,146.0 680.0,146.4 682.5,147.5 685.0,148.2 687.5,147.8 690.0,149.3 692.5,149.2 695.0,150.6 697.5,151.9 700.0,151.7 702.5,150.8 705.0,153.3 707.5,154.9 710.0,154.8 712.5,155.1 715.0,156.2 717.5,155.4 720.0,157.2 722.5,157.4 725.0,159.2 727.5,158.2 730.0,159.9 732.5,159.2 735.0,161.2 737.5,161.4 737.5,187.8 735.0,185.7 732.5,183.5 730.0,184.3 727.5,181.8 725.0,182.6 722.5,184.2 720.0,181.9 717.5,179.4 715.0,180.0 712.5,177.5 710.0,178.4 707.5,177.4 705.0,177.8 702.5,175.9 700.0,176.1 697.5,177.3 695.0,174.5 692.5,175.8 690.0,173.4 687.5,174.5 685.0,171.9 682.5,172.3 680.0,169.8 677.5,169.2 675.0,168.4 672.5,170.3 670.0,167.1 667.5,168.7 665.0,166.2 662.5,167.2 660.0,164.7 657.5,162.8 655.0,163.6 652.5,163.5 650.0,162.2 647.5,159.5 645.0,160.2 642.5,160.0 640.0,159.4 637.5,157.5 635.0,157.5 632.5,156.4 630.0,156.1 627.5,157.0 625.0,155.0" fill="#f0b030"/><polygon points="625.0,155.0 627.5,157.0 630.0,156.1 632.5,156.4 635.0,157.5 637.5,157.5 640.0,159.4 642.5,160.0 645.0,160.2 647.5,159.5 650.0,162.2 652.5,163.5 655.0,163.6 657.5,162.8 660.0,164.7 662.5,167.2 665.0,166.2 667.5,168.7 670.0,167.1 672.5,170.3 675.0,168.4 677.5,169.2 680.0,169.8 682.5,172.3 685.0,171.9 687.5,174.5 690.0,173.4 692.5,175.8 695.0,174.5 697.5,177.3 700.0,176.1 702.5,175.9 705.0,177.8 707.5,177.4 710.0,178.4 712.5,177.5 715.0,180.0 717.5,179.4 720.0,181.9 722.5,184.2 725.0,182.6 727.5,181.8 730.0,184.3 732.5,183.5 735.0,185.7 737.5,187.8 737.5,204.5 735.0,205.6 732.5,204.8 730.0,204.0 727.5,204.4 725.0,202.6 722.5,203.8 720.0,201.1 717.5,202.0 715.0,200.0 712.5,197.2 710.0,198.9 707.5,197.8 705.0,197.3 702.5,196.8 700.0,195.6 697.5,195.4 695.0,194.5 692.5,191.9 690.0,193.5 687.5,191.3 685.0,192.0 682.5,191.2 680.0,190.1 677.5,190.2 675.0,188.5 672.5,189.6 670.0,187.5 667.5,187.0 665.0,186.4 662.5,185.0 660.0,184.5 657.5,182.8 655.0,183.4 652.5,184.0 650.0,182.1 647.5,180.8 645.0,180.7 642.5,181.5 640.0,179.4 637.5,180.1 635.0,177.5 632.5,176.7 630.0,176.7 627.5,175.2 625.0,174.6" fill="#eef020"/><polygon points="625.0,174.6 627.5,175.2 630.0,176.7 632.5,176.7 635.0,177.5 637.5,180.1 640.0,179.4 642.5,181.5 645.0,180.7 647.5,180.8 650.0,182.1 652.5,184.0 655.0,183.4 657.5,182.8 660.0,184.5 662.5,185.0 665.0,186.4 667.5,187.0 670.0,187.5 672.5,189.6 675.0,188.5 677.5,190.2 680.0,190.1 682.5,191.2 685.0,192.0 687.5,191.3 690.0,193.5 692.5,191.9 695.0,194.5 697.5,195.4 700.0,195.6 702.5,196.8 705.0,197.3 707.5,197.8 710.0,198.9 712.5,197.2 715.0,200.0 717.5,202.0 720.0,201.1 722.5,203.8 725.0,202.6 727.5,204.4 730.0,204.0 732.5,204.8 735.0,205.6 737.5,204.5 737.5,224.7 735.0,222.2 732.5,222.6 730.0,221.8 727.5,219.5 725.0,220.2 722.5,218.1 720.0,218.8 717.5,217.5 715.0,217.1 712.5,214.7 710.0,215.6 707.5,213.3 705.0,214.3 702.5,215.1 700.0,212.6 697.5,210.9 695.0,211.1 692.5,209.8 690.0,209.8 687.5,209.6 685.0,208.7 682.5,209.4 680.0,207.2 677.5,206.1 675.0,205.7 672.5,207.2 670.0,204.3 667.5,203.1 665.0,202.9 662.5,201.5 660.0,201.8 657.5,201.7 655.0,200.6 652.5,199.6 650.0,199.2 647.5,199.8 645.0,197.1 642.5,198.5 640.0,195.9 637.5,195.5 635.0,194.7 632.5,194.2 630.0,193.5 627.5,192.5 625.0,192.1" fill="#a8ec20"/><polygon points="625.0,192.1 627.5,192.5 630.0,193.5 632.5,194.2 635.0,194.7 637.5,195.5 640.0,195.9 642.5,198.5 645.0,197.1 647.5,199.8 650.0,199.2 652.5,199.6 655.0,200.6 657.5,201.7 660.0,201.8 662.5,201.5 665.0,202.9 667.5,203.1 670.0,204.3 672.5,207.2 675.0,205.7 677.5,206.1 680.0,207.2 682.5,209.4 685.0,208.7 687.5,209.6 690.0,209.8 692.5,209.8 695.0,211.1 697.5,210.9 700.0,212.6 702.5,215.1 705.0,214.3 707.5,213.3 710.0,215.6 712.5,214.7 715.0,217.1 717.5,217.5 720.0,218.8 722.5,218.1 725.0,220.2 727.5,219.5 730.0,221.8 732.5,222.6 735.0,222.2 737.5,224.7 737.5,246.5 735.0,244.2 732.5,244.7 730.0,242.1 727.5,243.5 725.0,241.1 722.5,240.8 720.0,239.3 717.5,238.5 715.0,238.4 712.5,237.5 710.0,236.8 707.5,235.2 705.0,235.2 702.5,233.3 700.0,234.2 697.5,231.4 695.0,232.1 692.5,231.0 690.0,231.2 687.5,230.8 685.0,230.0 682.5,230.2 680.0,228.3 677.5,228.5 675.0,226.8 672.5,227.2 670.0,225.1 667.5,225.3 665.0,223.6 662.5,222.0 660.0,223.1 657.5,224.1 655.0,220.9 652.5,221.3 650.0,220.3 647.5,217.3 645.0,218.3 642.5,218.6 640.0,217.0 637.5,217.4 635.0,215.3 632.5,216.5 630.0,213.9 627.5,213.0 625.0,212.7" fill="#30e030"/><polygon points="625.0,212.7 627.5,213.0 630.0,213.9 632.5,216.5 635.0,215.3 637.5,217.4 640.0,217.0 642.5,218.6 645.0,218.3 647.5,217.3 650.0,220.3 652.5,221.3 655.0,220.9 657.5,224.1 660.0,223.1 662.5,222.0 665.0,223.6 667.5,225.3 670.0,225.1 672.5,227.2 675.0,226.8 677.5,228.5 680.0,228.3 682.5,230.2 685.0,230.0 687.5,230.8 690.0,231.2 692.5,231.0 695.0,232.1 697.5,231.4 700.0,234.2 702.5,233.3 705.0,235.2 707.5,235.2 710.0,236.8 712.5,237.5 715.0,238.4 717.5,238.5 720.0,239.3 722.5,240.8 725.0,241.1 727.5,243.5 730.0,242.1 732.5,244.7 735.0,244.2 737.5,246.5 737.5,252.9 735.0,253.5 732.5,253.7 730.0,252.5 727.5,252.6 725.0,251.4 722.5,249.7 720.0,249.0 717.5,246.8 715.0,248.0 712.5,246.9 710.0,247.0 707.5,244.1 705.0,245.2 702.5,245.3 700.0,244.4 697.5,245.0 695.0,242.6 692.5,241.5 690.0,241.2 687.5,240.5 685.0,240.1 682.5,239.3 680.0,238.6 677.5,236.1 675.0,236.8 672.5,236.9 670.0,235.3 667.5,233.7 665.0,234.0 662.5,233.8 660.0,233.0 657.5,231.7 655.0,231.1 652.5,228.6 650.0,229.8 647.5,227.9 645.0,228.5 642.5,228.9 640.0,227.3 637.5,225.9 635.0,225.2 632.5,226.4 630.0,224.6 627.5,223.1 625.0,222.5" fill="#30e8a8"/><polygon points="625.0,222.5 627.5,223.1 630.0,224.6 632.5,226.4 635.0,225.2 637.5,225.9 640.0,227.3 642.5,228.9 645.0,228.5 647.5,227.9 650.0,229.8 652.5,228.6 655.0,231.1 657.5,231.7 660.0,233.0 662.5,233.8 665.0,234.0 667.5,233.7 670.0,235.3 672.5,236.9 675.0,236.8 677.5,236.1 680.0,238.6 682.5,239.3 685.0,240.1 687.5,240.5 690.0,241.2 692.5,241.5 695.0,242.6 697.5,245.0 700.0,244.4 702.5,245.3 705.0,245.2 707.5,244.1 710.0,247.0 712.5,246.9 715.0,248.0 717.5,246.8 720.0,249.0 722.5,249.7 725.0,251.4 727.5,252.6 730.0,252.5 732.5,253.7 735.0,253.5 737.5,252.9 737.5,270.4 735.0,270.7 732.5,270.6 730.0,269.7 727.5,269.5 725.0,268.2 722.5,265.3 720.0,266.1 717.5,267.2 715.0,264.7 712.5,266.4 710.0,264.1 707.5,261.3 705.0,262.4 702.5,263.5 700.0,261.1 697.5,258.7 695.0,259.9 692.5,259.1 690.0,258.4 687.5,255.3 685.0,257.1 682.5,255.1 680.0,255.6 677.5,254.8 675.0,253.9 672.5,252.2 670.0,252.2 667.5,253.9 665.0,250.9 662.5,249.0 660.0,249.7 657.5,249.4 655.0,248.5 652.5,248.1 650.0,246.7 647.5,246.8 645.0,245.1 642.5,244.7 640.0,243.6 637.5,241.7 635.0,242.7 632.5,242.0 630.0,241.4 627.5,238.7 625.0,240.0" fill="#20e0f0"/><polygon points="625.0,240.0 627.5,238.7 630.0,241.4 632.5,242.0 635.0,242.7 637.5,241.7 640.0,243.6 642.5,244.7 645.0,245.1 647.5,246.8 650.0,246.7 652.5,248.1 655.0,248.5 657.5,249.4 660.0,249.7 662.5,249.0 665.0,250.9 667.5,253.9 670.0,252.2 672.5,252.2 675.0,253.9 677.5,254.8 680.0,255.6 682.5,255.1 685.0,257.1 687.5,255.3 690.0,258.4 692.5,259.1 695.0,259.9 697.5,258.7 700.0,261.1 702.5,263.5 705.0,262.4 707.5,261.3 710.0,264.1 712.5,266.4 715.0,264.7 717.5,267.2 720.0,266.1 722.5,265.3 725.0,268.2 727.5,269.5 730.0,269.7 732.5,270.6 735.0,270.7 737.5,270.4 737.5,293.7 735.0,291.7 732.5,290.7 730.0,290.4 727.5,291.7 725.0,289.0 722.5,286.6 720.0,287.1 717.5,288.1 715.0,286.4 712.5,284.1 710.0,285.0 707.5,284.5 705.0,283.5 702.5,281.8 700.0,281.5 697.5,282.7 695.0,280.4 692.5,281.6 690.0,279.1 687.5,278.7 685.0,277.5 682.5,278.3 680.0,275.9 677.5,276.2 675.0,275.2 672.5,274.5 670.0,273.5 667.5,273.9 665.0,272.4 662.5,269.2 660.0,271.2 657.5,268.4 655.0,269.4 652.5,266.6 650.0,267.6 647.5,265.8 645.0,266.8 642.5,263.9 640.0,265.3 637.5,265.4 635.0,263.4 632.5,264.6 630.0,262.4 627.5,263.7 625.0,261.0" fill="#20a0f0"/><polygon points="625.0,261.0 627.5,263.7 630.0,262.4 632.5,264.6 635.0,263.4 637.5,265.4 640.0,265.3 642.5,263.9 645.0,266.8 647.5,265.8 650.0,267.6 652.5,266.6 655.0,269.4 657.5,268.4 660.0,271.2 662.5,269.2 665.0,272.4 667.5,273.9 670.0,273.5 672.5,274.5 675.0,275.2 677.5,276.2 680.0,275.9 682.5,278.3 685.0,277.5 687.5,278.7 690.0,279.1 692.5,281.6 695.0,280.4 697.5,282.7 700.0,281.5 702.5,281.8 705.0,283.5 707.5,284.5 710.0,285.0 712.5,284.1 715.0,286.4 717.5,288.1 720.0,287.1 722.5,286.6 725.0,289.0 727.5,291.7 730.0,290.4 732.5,290.7 735.0,291.7 737.5,293.7 737.5,315.1 735.0,314.3 732.5,313.3 730.0,313.6 727.5,312.4 725.0,312.1 722.5,310.1 720.0,310.9 717.5,307.8 715.0,309.0 712.5,309.5 710.0,307.8 707.5,307.3 705.0,305.9 702.5,306.6 700.0,305.2 697.5,306.3 695.0,303.6 692.5,300.7 690.0,301.8 687.5,301.6 685.0,300.3 682.5,299.8 680.0,299.7 677.5,298.0 675.0,297.6 672.5,295.4 670.0,296.7 667.5,297.9 665.0,295.1 662.5,293.1 660.0,293.5 657.5,293.0 655.0,291.9 652.5,293.4 650.0,291.3 647.5,291.1 645.0,289.8 642.5,289.2 640.0,287.8 637.5,288.9 635.0,287.0 632.5,287.9 630.0,285.4 627.5,284.7 625.0,283.9" fill="#2060f0"/><polygon points="625.0,283.9 627.5,284.7 630.0,285.4 632.5,287.9 635.0,287.0 637.5,288.9 640.0,287.8 642.5,289.2 645.0,289.8 647.5,291.1 650.0,291.3 652.5,293.4 655.0,291.9 657.5,293.0 660.0,293.5 662.5,293.1 665.0,295.1 667.5,297.9 670.0,296.7 672.5,295.4 675.0,297.6 677.5,298.0 680.0,299.7 682.5,299.8 685.0,300.3 687.5,301.6 690.0,301.8 692.5,300.7 695.0,303.6 697.5,306.3 700.0,305.2 702.5,306.6 705.0,305.9 707.5,307.3 710.0,307.8 712.5,309.5 715.0,309.0 717.5,307.8 720.0,310.9 722.5,310.1 725.0,312.1 727.5,312.4 730.0,313.6 732.5,313.3 735.0,314.3 737.5,315.1 737.5,334.4 735.0,332.3 732.5,332.7 730.0,331.2 727.5,329.4 725.0,329.4 722.5,326.8 720.0,327.8 717.5,326.6 715.0,326.1 712.5,324.4 710.0,325.0 707.5,324.1 705.0,323.9 702.5,324.1 700.0,322.3 697.5,323.6 695.0,321.1 692.5,320.8 690.0,319.7 687.5,320.9 685.0,318.2 682.5,317.6 680.0,316.6 677.5,314.5 675.0,315.8 672.5,315.3 670.0,314.4 667.5,315.3 665.0,312.7 662.5,313.1 660.0,311.4 657.5,308.7 655.0,310.0 652.5,310.3 650.0,308.7 647.5,305.6 645.0,307.4 642.5,308.0 640.0,305.3 637.5,305.9 635.0,304.1 632.5,304.2 630.0,302.7 627.5,303.4 625.0,301.4" fill="#1838d8"/><polygon points="625.0,301.4 627.5,303.4 630.0,302.7 632.5,304.2 635.0,304.1 637.5,305.9 640.0,305.3 642.5,308.0 645.0,307.4 647.5,305.6 650.0,308.7 652.5,310.3 655.0,310.0 657.5,308.7 660.0,311.4 662.5,313.1 665.0,312.7 667.5,315.3 670.0,314.4 672.5,315.3 675.0,315.8 677.5,314.5 680.0,316.6 682.5,317.6 685.0,318.2 687.5,320.9 690.0,319.7 692.5,320.8 695.0,321.1 697.5,323.6 700.0,322.3 702.5,324.1 705.0,323.9 707.5,324.1 710.0,325.0 712.5,324.4 715.0,326.1 717.5,326.6 720.0,327.8 722.5,326.8 725.0,329.4 727.5,329.4 730.0,331.2 732.5,332.7 735.0,332.3 737.5,334.4 737.5,400.0 735.0,400.0 732.5,400.0 730.0,400.0 727.5,400.0 725.0,400.0 722.5,400.0 720.0,400.0 717.5,400.0 715.0,400.0 712.5,400.0 710.0,400.0 707.5,400.0 705.0,400.0 702.5,400.0 700.0,400.0 697.5,400.0 695.0,400.0 692.5,400.0 690.0,400.0 687.5,400.0 685.0,400.0 682.5,400.0 680.0,400.0 677.5,400.0 675.0,400.0 672.5,400.0 670.0,400.0 667.5,400.0 665.0,400.0 662.5,400.0 660.0,400.0 657.5,400.0 655.0,400.0 652.5,400.0 650.0,400.0 647.5,400.0 645.0,400.0 642.5,400.0 640.0,400.0 637.5,400.0 635.0,400.0 632.5,400.0 630.0,400.0 627.5,400.0 625.0,400.0" fill="#0810a8"/></g>
</svg><!--/P3D-->
<div class="abs" style="left:472px;top:461px;width:318px;height:27px;background:#eceff1"></div>
<div class="stp" style="left:472px;top:466px;width:105px;height:21px"></div>
<div class="stp" style="left:580px;top:466px;width:37px;height:21px"></div>
<div class="stp" style="left:620px;top:466px;width:34px;height:21px;background:#c8c8c8"></div>
<div class="stp" style="left:657px;top:466px;width:133px;height:21px"></div>
<div class="stt" style="left:475px;top:468px;font-size:16.2px;line-height:19px">Frame 1 of 1</div>
<div class="stt" style="left:662px;top:468px;font-size:16.2px;line-height:19px;letter-spacing:0.55px">Area: 50.38 ir</div>

<!-- ============ WINDOW 3 ============ -->
<div class="win" style="left:0;top:499px;width:805px;height:210px;border-width:2px 1px 1px 1px;border-color:#5c6878"></div>
<div class="abs" style="left:1px;top:501px;width:803px;height:29px;border-radius:4px 4px 0 0;background:linear-gradient(#dde6f0 0px,#c0ccda 1.5px,#c4d0de 10px,#d2dfec 24px,#e4ecf4 27px,#dae4ee 29px)"></div>
<div class="ttl" style="left:30px;top:511px;font-size:10.2px;line-height:14px">Graph1</div>
<div class="abs" style="left:9px;top:529px;width:787px;height:163px;background:#c0c0c0;border-left:1px solid #555c62;border-top:2px solid #555c62;border-right:2px solid #555c62"></div>
<div class="abs" style="left:789px;top:531px;width:5px;height:161px;background:#f4f4f4"></div>
<div class="abs" style="left:1px;top:692px;width:803px;height:10px;background:linear-gradient(#f2f6fa 0px,#f2f6fa 2px,#dde6ef 2px,#dde6ef 7px,#e8eef4 7px)"></div>

<!--GRAPH--><svg class="abs" style="left:0;top:0" width="806" height="702">
<rect x="83" y="561" width="661" height="108" fill="#fff"/><path d="M83 561.5H744M743.5 561V669M83 668.5H744" stroke="#000" stroke-width="1" fill="none"/><path d="M83.5 562V668" stroke="#808080" stroke-width="1"/>
<path d="M105.0 651.0L153.7 651.0L168.5 626.0L174.5 617.3L186.7 603.5L196.2 595.3C196.2 595.3 203.9 595.8 209.3 597.0C214.7 598.2 221.8 600.8 228.4 602.6C235.1 604.4 243.1 606.6 249.2 607.8C255.3 608.9 259.1 608.0 264.9 609.5C270.7 611.0 277.5 613.8 284.0 616.5C290.5 619.2 297.2 623.1 303.8 625.8C310.4 628.5 316.8 630.6 323.7 632.7C330.6 634.8 340.6 637.2 345.5 638.3C350.4 639.4 341.5 639.1 353.4 639.3C365.3 639.5 402.7 640.0 416.9 639.7C431.1 639.4 432.8 638.3 438.7 637.7C444.6 637.1 446.3 637.2 452.3 635.9C458.3 634.6 468.4 631.5 474.7 629.8C481.0 628.1 485.5 627.4 490.3 625.8C495.1 624.2 498.1 623.2 503.7 620.2C509.3 617.2 516.7 611.5 523.8 608.0C530.9 604.5 540.1 601.7 546.1 599.0C552.1 596.3 554.3 593.9 559.5 591.7C564.7 589.5 572.2 587.4 577.4 585.6C582.6 583.8 587.2 581.6 590.8 580.7C594.3 579.8 595.1 580.4 598.7 580.4C602.3 580.4 608.3 580.0 612.6 580.8C616.9 581.6 620.4 583.2 624.7 585.3C629.0 587.4 634.2 589.9 638.6 593.4C643.0 596.9 647.3 602.0 650.8 606.5C654.3 611.0 656.3 614.9 659.5 620.4C662.7 625.9 667.0 635.3 669.9 639.5C672.8 643.7 674.9 643.7 676.9 645.6C678.9 647.5 679.5 649.0 682.0 651.0L717.7 651.0" fill="none" stroke="#36b436" stroke-width="2" stroke-linejoin="round"/>
<path d="M105.5 569.5V651.5H728.5" fill="none" stroke="#000" stroke-width="1.2"/>
<path d="M103 651.5H108M103 631.0H108M103 610.6H108M103 590.1H108M103 569.7H108M229.2 649V653.5M354.0 649V653.5M478.8 649V653.5M603.5 649V653.5M728.2 649V653.5" stroke="#000" stroke-width="1.2"/>
<path d="M174.5 566V651.5M171 566H178" stroke="#000" stroke-width="1.2"/>
<text x="101.5" y="655.3" text-anchor="end" font-family="Liberation Sans" font-size="10.5" fill="#111">0</text>
<text x="101.5" y="634.8" text-anchor="end" font-family="Liberation Sans" font-size="10.5" fill="#111">10</text>
<text x="101.5" y="614.4" text-anchor="end" font-family="Liberation Sans" font-size="10.5" fill="#111">20</text>
<text x="101.5" y="593.9" text-anchor="end" font-family="Liberation Sans" font-size="10.5" fill="#111">30</text>
<text x="101.5" y="573.5" text-anchor="end" font-family="Liberation Sans" font-size="10.5" fill="#111">40</text>
<text x="104.5" y="664.8" text-anchor="middle" font-family="Liberation Sans" font-size="10.5" fill="#111">0</text>
<text x="229.2" y="664.8" text-anchor="middle" font-family="Liberation Sans" font-size="10.5" fill="#111">50</text>
<text x="354.0" y="664.8" text-anchor="middle" font-family="Liberation Sans" font-size="10.5" fill="#111">100</text>
<text x="478.8" y="664.8" text-anchor="middle" font-family="Liberation Sans" font-size="10.5" fill="#111">150</text>
<text x="603.5" y="664.8" text-anchor="middle" font-family="Liberation Sans" font-size="10.5" fill="#111">200</text>
<text x="728.2" y="664.8" text-anchor="middle" font-family="Liberation Sans" font-size="10.5" fill="#111">250</text>
<text x="372.5" y="553.6" text-anchor="middle" font-family="Liberation Sans" font-weight="bold" font-size="18.2" fill="#000">Force vs. Distance</text>
<text x="391.3" y="683.6" text-anchor="middle" font-family="Liberation Sans" font-weight="bold" font-size="11.4" fill="#111">Distance across Columns, millimeters</text>
<text transform="translate(49.5,612.5) rotate(-90)" text-anchor="middle" font-family="Liberation Sans" font-weight="bold" font-size="12.2" fill="#111">Force,</text>
<text transform="translate(63.5,613) rotate(-90)" text-anchor="middle" font-family="Liberation Sans" font-weight="bold" font-size="12.4" fill="#111">Newtons</text>
</svg><!--/GRAPH-->
<!--CHROME--><svg class="abs" style="left:0;top:0" width="806" height="702">
<rect x="10.5" y="9.5" width="17" height="16" fill="#eef2f6"/>
<path d="M13 12.5L16.5 11L19 12.5L22 10.5L25 12L24.5 15.5L26.5 18L24 20.5L22 23.5L18.5 22.5L15 24L14 20.5L11 18.5L13 15.5Z" fill="#0c1a90"/>
<ellipse cx="19.3" cy="17.3" rx="4.2" ry="3" fill="#36c860"/>
<ellipse cx="19.3" cy="17.3" rx="2.6" ry="1.6" fill="#c8e040"/>
<rect x="17.5" y="16.6" width="3.5" height="1.2" fill="#606020"/>
<rect x="474.5" y="16.5" width="21" height="22.5" fill="#f6f8f8"/>
<path d="M479 34.5L480 22L481 19.5L482 22L482.5 34.5Z" fill="#b05060"/>
<rect x="486" y="23" width="4.5" height="11" fill="#90c890"/>
<rect x="483.5" y="29" width="2" height="5.5" fill="#304030"/>
<path d="M476 35.5L480 31.5M476 35L493 33.5L493.5 30.5L487 29.5" stroke="#505050" stroke-width="1.2" fill="none"/>
<rect x="11.5" y="511" width="14" height="13" fill="#e8ece8"/>
<path d="M12 511V524H25" stroke="#605040" stroke-width="1.2" fill="none"/>
<path d="M14 522L16 516L18 520L21 513L24 518" stroke="#c07060" stroke-width="1.2" fill="none"/>
<path d="M14 519L17 523L20 515L23 521L25 514" stroke="#70c070" stroke-width="1.4" fill="none" opacity="0.8"/>
<rect x="116.5" y="482.35" width="8.549999999999999" height="5.699999999999999" fill="none" stroke="#333" stroke-width="1.04"/><rect x="120.3" y="479.5" width="8.549999999999999" height="5.699999999999999" fill="#c8c8c8" stroke="#333" stroke-width="1.04"/>
<rect x="625.5" y="473.7" width="12.6" height="8.399999999999999" fill="none" stroke="#333" stroke-width="1.54"/><rect x="631.1" y="469.5" width="12.6" height="8.399999999999999" fill="#c8c8c8" stroke="#333" stroke-width="1.54"/>
<path d="M443.5 491.5L454.5 480.5" stroke="#9a9a9a" stroke-width="1.3"/><path d="M447.5 491.5L454.5 484.5" stroke="#9a9a9a" stroke-width="1.3"/><path d="M451.5 491.5L454.5 488.5" stroke="#9a9a9a" stroke-width="1.3"/>
<path d="M775.7 486.0L790.0 471.7" stroke="#9a9a9a" stroke-width="1.7"/><path d="M780.9 486.0L790.0 476.9" stroke="#9a9a9a" stroke-width="1.7"/><path d="M786.1 486.0L790.0 482.1" stroke="#9a9a9a" stroke-width="1.7"/>
<rect x="359.5" y="9.5" width="29" height="16" rx="2.5" fill="#d6e0ec" stroke="#8c9bad"/><rect x="360.5" y="10.5" width="27" height="14" rx="1.5" fill="none" stroke="#e6edf5" stroke-opacity="0.9"/>
<rect x="391.5" y="9.5" width="29" height="16" rx="2.5" fill="#d6e0ec" stroke="#8c9bad"/><rect x="392.5" y="10.5" width="27" height="14" rx="1.5" fill="none" stroke="#e6edf5" stroke-opacity="0.9"/>
<rect x="423.5" y="9.5" width="29" height="16" rx="2.5" fill="#d6e0ec" stroke="#8c9bad"/><rect x="424.5" y="10.5" width="27" height="14" rx="1.5" fill="none" stroke="#e6edf5" stroke-opacity="0.9"/>
<rect x="369.5" y="17.3" width="9" height="4" rx="1.2" fill="#fff" stroke="#353c48" stroke-width="1"/>
<rect x="401.0" y="13.2" width="10" height="8.5" rx="1" fill="#fff" stroke="#353c48" stroke-width="1"/><rect x="403.8" y="16.1" width="4.4" height="2.9" fill="#c8d0d8" stroke="#353c48" stroke-width="1.2"/>
<polygon points="432.9,13.0 436.1,13.0 438.0,15.9 439.9,13.0 443.1,13.0 439.8,17.4 443.1,21.8 439.9,21.8 438.0,18.9 436.1,21.8 432.9,21.8 436.2,17.4" fill="#fff" stroke="#353c48" stroke-width="1" stroke-linejoin="round"/>
<rect x="654.5" y="16.5" width="42" height="23" rx="2.5" fill="#d6e0ec" stroke="#8c9bad"/><rect x="655.5" y="17.5" width="40" height="21" rx="1.5" fill="none" stroke="#e6edf5" stroke-opacity="0.9"/>
<rect x="700.5" y="16.5" width="42" height="23" rx="2.5" fill="#d6e0ec" stroke="#8c9bad"/><rect x="701.5" y="17.5" width="40" height="21" rx="1.5" fill="none" stroke="#e6edf5" stroke-opacity="0.9"/>
<rect x="746.5" y="16.5" width="42" height="23" rx="2.5" fill="#d6e0ec" stroke="#8c9bad"/><rect x="747.5" y="17.5" width="40" height="21" rx="1.5" fill="none" stroke="#e6edf5" stroke-opacity="0.9"/>
<rect x="669.0" y="28.2" width="14" height="5.5" rx="1.2" fill="#fff" stroke="#353c48" stroke-width="1"/>
<rect x="713.8" y="22.4" width="14.5" height="10.5" rx="1" fill="#fff" stroke="#353c48" stroke-width="1"/><rect x="717.8" y="25.9" width="6.4" height="3.6" fill="#c8d0d8" stroke="#353c48" stroke-width="1.2"/>
<polygon points="760.0,22.2 765.4,22.2 767.5,27.1 769.6,22.2 775.0,22.2 770.5,27.7 775.0,33.2 769.6,33.2 767.5,28.3 765.4,33.2 760.0,33.2 764.5,27.7" fill="#fff" stroke="#353c48" stroke-width="1" stroke-linejoin="round"/>
<rect x="703.5" y="510.5" width="28" height="15" rx="2.5" fill="#d6e0ec" stroke="#8c9bad"/><rect x="704.5" y="511.5" width="26" height="13" rx="1.5" fill="none" stroke="#e6edf5" stroke-opacity="0.9"/>
<rect x="734.5" y="510.5" width="28" height="15" rx="2.5" fill="#d6e0ec" stroke="#8c9bad"/><rect x="735.5" y="511.5" width="26" height="13" rx="1.5" fill="none" stroke="#e6edf5" stroke-opacity="0.9"/>
<rect x="765.5" y="510.5" width="28" height="15" rx="2.5" fill="#d6e0ec" stroke="#8c9bad"/><rect x="766.5" y="511.5" width="26" height="13" rx="1.5" fill="none" stroke="#e6edf5" stroke-opacity="0.9"/>
<rect x="712.0" y="518.0" width="10" height="3.5" rx="1.2" fill="#fff" stroke="#353c48" stroke-width="1"/>
<rect x="742.8" y="515.0" width="10.5" height="6.5" rx="1" fill="#fff" stroke="#353c48" stroke-width="1"/><rect x="745.7" y="517.2" width="4.6" height="2.2" fill="#c8d0d8" stroke="#353c48" stroke-width="1.2"/>
<polygon points="774.2,514.4 777.2,514.4 779.6,517.1 782.0,514.4 785.0,514.4 781.2,518.0 785.0,521.6 782.0,521.6 779.6,518.9 777.2,521.6 774.2,521.6 778.0,518.0" fill="#fff" stroke="#353c48" stroke-width="1" stroke-linejoin="round"/>
</svg><!--/CHROME-->
</body></html>
